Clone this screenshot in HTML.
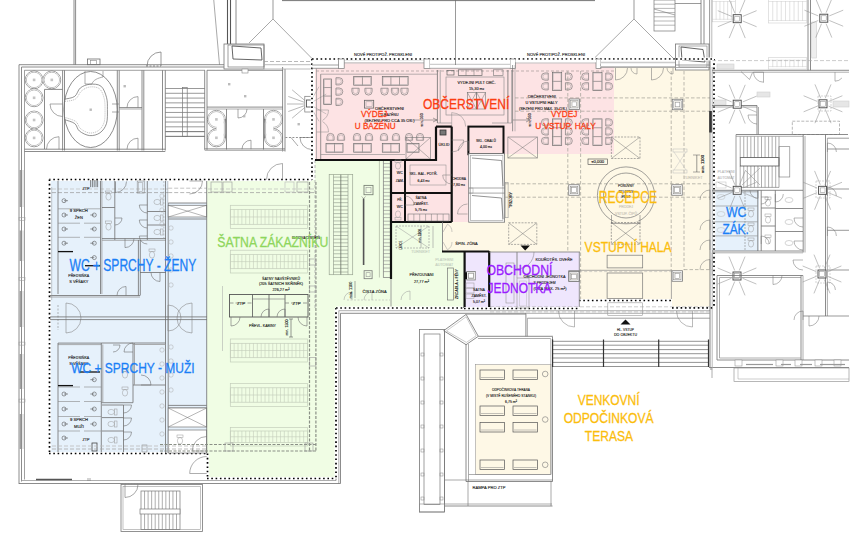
<!DOCTYPE html>
<html><head><meta charset="utf-8"><style>
html,body{margin:0;padding:0;background:#fff;}
svg{display:block;font-family:"Liberation Sans",sans-serif;}
</style></head><body>
<svg width="857" height="536" viewBox="0 0 857 536">
<rect width="857" height="536" fill="#fff"/>
<rect x="50" y="181" width="157" height="272" fill="#e6f1fb"/>
<polygon points="207,180 315,180 315,160 391,160 391,222 442,222 442,252 464.5,252 464.5,308 336,308 336,478 207,478" fill="#f0fde4"/>
<polygon points="315,62.5 614,62.5 614,154 469,154 469,222 391,222 391,160 315,160" fill="#fde3e4"/>
<polygon points="504,154 614,154 614,67 710,67 710,307.5 672,307.5 672,300.5 580,300.5 580,252 442,252 442,222 504,222" fill="#fef8e6"/>
<rect x="464.5" y="252" width="115" height="56" fill="#efe6fd"/>
<rect x="712" y="190" width="47" height="61" fill="#e6f1fb"/>
<rect x="475.5" y="364.5" width="75.5" height="110" fill="#fef8e6"/>
<line x1="74" y1="0" x2="74" y2="64.7" stroke="#6e6e6e" stroke-width="0.8"/>
<line x1="75.6" y1="0" x2="75.6" y2="64.7" stroke="#6e6e6e" stroke-width="0.8"/>
<rect x="87.5" y="59" width="12.5" height="5.7" fill="none" stroke="#6e6e6e" stroke-width="0.8"/>
<rect x="90.5" y="60.5" width="6" height="4" fill="none" stroke="#888" stroke-width="0.6"/>
<line x1="19" y1="64.7" x2="228" y2="64.7" stroke="#6e6e6e" stroke-width="0.8"/>
<line x1="21.5" y1="67" x2="228" y2="67" stroke="#6e6e6e" stroke-width="0.8"/>
<line x1="24.3" y1="70.3" x2="205" y2="70.3" stroke="#888" stroke-width="0.8"/>
<line x1="19" y1="64.7" x2="19" y2="484" stroke="#6e6e6e" stroke-width="0.8"/>
<line x1="21.5" y1="67" x2="21.5" y2="481.5" stroke="#6e6e6e" stroke-width="0.8"/>
<line x1="24.5" y1="70.3" x2="24.5" y2="479.5" stroke="#888" stroke-width="0.8"/>
<line x1="20.3" y1="170" x2="20.3" y2="207" stroke="#6a6a6a" stroke-width="0.8"/>
<line x1="23" y1="170" x2="23" y2="207" stroke="#999" stroke-width="0.5"/>
<line x1="20.3" y1="230.5" x2="20.3" y2="261" stroke="#6a6a6a" stroke-width="0.8"/>
<line x1="23" y1="230.5" x2="23" y2="261" stroke="#999" stroke-width="0.5"/>
<line x1="20.3" y1="291" x2="20.3" y2="327" stroke="#6a6a6a" stroke-width="0.8"/>
<line x1="23" y1="291" x2="23" y2="327" stroke="#999" stroke-width="0.5"/>
<line x1="20.3" y1="354" x2="20.3" y2="389" stroke="#6a6a6a" stroke-width="0.8"/>
<line x1="23" y1="354" x2="23" y2="389" stroke="#999" stroke-width="0.5"/>
<line x1="20.3" y1="414" x2="20.3" y2="449" stroke="#6a6a6a" stroke-width="0.8"/>
<line x1="23" y1="414" x2="23" y2="449" stroke="#999" stroke-width="0.5"/>
<rect x="19" y="217.3" width="6" height="3" fill="none" stroke="#999" stroke-width="0.5"/>
<rect x="19" y="277.5" width="6" height="3" fill="none" stroke="#999" stroke-width="0.5"/>
<rect x="19" y="342.1" width="6" height="3" fill="none" stroke="#999" stroke-width="0.5"/>
<rect x="19" y="399.1" width="6" height="3" fill="none" stroke="#999" stroke-width="0.5"/>
<line x1="24.5" y1="149.2" x2="165.3" y2="149.2" stroke="#6e6e6e" stroke-width="0.8"/>
<line x1="24.5" y1="151.5" x2="165.3" y2="151.5" stroke="#6e6e6e" stroke-width="0.8"/>
<line x1="62.6" y1="70.3" x2="62.6" y2="150.5" stroke="#6e6e6e" stroke-width="0.8"/>
<line x1="64.5" y1="70.3" x2="64.5" y2="150.5" stroke="#6e6e6e" stroke-width="0.8"/>
<line x1="117.3" y1="70.3" x2="117.3" y2="150.5" stroke="#6e6e6e" stroke-width="0.8"/>
<line x1="119.2" y1="70.3" x2="119.2" y2="150.5" stroke="#6e6e6e" stroke-width="0.8"/>
<line x1="142" y1="70.3" x2="142" y2="150.5" stroke="#6e6e6e" stroke-width="0.8"/>
<line x1="143.8" y1="70.3" x2="143.8" y2="150.5" stroke="#6e6e6e" stroke-width="0.8"/>
<line x1="162.5" y1="70.3" x2="162.5" y2="150.5" stroke="#6e6e6e" stroke-width="0.8"/>
<line x1="165.3" y1="70.3" x2="165.3" y2="150.5" stroke="#6e6e6e" stroke-width="0.8"/>
<path d="M161,66 L161.0,52.0 A14,14 0 0 0 147.0,66.0" fill="none" stroke="#6e6e6e" stroke-width="0.7"/>
<line x1="146" y1="66" x2="161" y2="66" stroke="#6e6e6e" stroke-width="0.8" stroke-dasharray="2 1.5"/>
<circle cx="34.1" cy="79.9" r="8.9" fill="none" stroke="#6e6e6e" stroke-width="0.7"/>
<circle cx="51.8" cy="79.9" r="8.9" fill="none" stroke="#6e6e6e" stroke-width="0.7"/>
<circle cx="34.1" cy="97.8" r="8.9" fill="none" stroke="#6e6e6e" stroke-width="0.7"/>
<circle cx="34.1" cy="79.9" r="8.450000000000001" fill="#fff" stroke="none" stroke-width="0"/>
<circle cx="51.8" cy="79.9" r="8.450000000000001" fill="#fff" stroke="none" stroke-width="0"/>
<circle cx="34.1" cy="97.8" r="8.450000000000001" fill="#fff" stroke="none" stroke-width="0"/>
<circle cx="34.1" cy="79.9" r="7.6000000000000005" fill="none" stroke="#8a8a8a" stroke-width="0.6"/>
<circle cx="51.8" cy="79.9" r="7.6000000000000005" fill="none" stroke="#8a8a8a" stroke-width="0.6"/>
<circle cx="34.1" cy="97.8" r="7.6000000000000005" fill="none" stroke="#8a8a8a" stroke-width="0.6"/>
<circle cx="34.1" cy="79.9" r="7.2" fill="#fff" stroke="none" stroke-width="0"/>
<circle cx="51.8" cy="79.9" r="7.2" fill="#fff" stroke="none" stroke-width="0"/>
<circle cx="34.1" cy="97.8" r="7.2" fill="#fff" stroke="none" stroke-width="0"/>
<rect x="32.800000000000004" y="78.60000000000001" width="2.6" height="2.6" fill="#c4c4c4"/>
<rect x="50.5" y="78.60000000000001" width="2.6" height="2.6" fill="#c4c4c4"/>
<rect x="32.800000000000004" y="96.5" width="2.6" height="2.6" fill="#c4c4c4"/>
<circle cx="34.1" cy="120" r="8.9" fill="none" stroke="#6e6e6e" stroke-width="0.7"/>
<circle cx="34.1" cy="137.9" r="8.9" fill="none" stroke="#6e6e6e" stroke-width="0.7"/>
<circle cx="34.1" cy="120" r="8.450000000000001" fill="#fff" stroke="none" stroke-width="0"/>
<circle cx="34.1" cy="137.9" r="8.450000000000001" fill="#fff" stroke="none" stroke-width="0"/>
<circle cx="34.1" cy="120" r="7.6000000000000005" fill="none" stroke="#8a8a8a" stroke-width="0.6"/>
<circle cx="34.1" cy="137.9" r="7.6000000000000005" fill="none" stroke="#8a8a8a" stroke-width="0.6"/>
<circle cx="34.1" cy="120" r="7.2" fill="#fff" stroke="none" stroke-width="0"/>
<circle cx="34.1" cy="137.9" r="7.2" fill="#fff" stroke="none" stroke-width="0"/>
<rect x="32.800000000000004" y="118.7" width="2.6" height="2.6" fill="#c4c4c4"/>
<rect x="32.800000000000004" y="136.6" width="2.6" height="2.6" fill="#c4c4c4"/>
<line x1="44.5" y1="89.4" x2="44.5" y2="149" stroke="#6e6e6e" stroke-width="0.8"/>
<line x1="44.5" y1="89.4" x2="62.5" y2="89.4" stroke="#6e6e6e" stroke-width="0.8"/>
<path d="M62.5,104 L50.0,104.0 A12.5,12.5 0 0 0 62.5,116.5" fill="none" stroke="#6e6e6e" stroke-width="0.6"/>
<path d="M59,149.2 L59.0,136.7 A12.5,12.5 0 0 0 46.5,149.2" fill="none" stroke="#6e6e6e" stroke-width="0.6"/>
<ellipse cx="90.6" cy="109.5" rx="26.7" ry="38" fill="none" stroke="#6e6e6e" stroke-width="0.8"/>
<path d="M64.5,99.2 C66.2,98.7 72.1,98.3 74.7,96.4 C77.3,94.5 77.8,90.0 80.3,88.0 C82.8,86.0 86.3,84.6 89.7,84.3 C93.1,84.0 98.1,83.9 100.9,86.1 C103.7,88.3 105.4,93.4 106.5,97.3 C107.6,101.2 107.4,105.1 107.4,109.5 C107.4,113.9 107.7,119.6 106.5,123.5 C105.3,127.4 102.8,130.8 100.0,132.8 C97.2,134.8 93.1,135.9 89.7,135.6 C86.3,135.3 81.9,133.0 79.4,131.0 C76.9,129.0 77.2,125.4 74.7,123.5 C72.2,121.6 66.2,120.3 64.5,119.7" fill="none" stroke="#666" stroke-width="0.7"/>
<path d="M65.0,101.5 C66.8,101.1 72.8,100.8 75.5,99.0 C78.2,97.2 79.1,93.0 81.5,91.0 C83.9,89.0 86.7,87.4 89.7,87.0 C92.7,86.6 97.1,86.9 99.5,88.8 C101.9,90.7 103.3,95.0 104.2,98.5 C105.1,102.0 105.0,105.6 105.0,109.5 C105.0,113.4 105.2,118.5 104.2,122.0 C103.2,125.5 101.2,128.5 98.8,130.3 C96.4,132.1 92.8,133.3 89.7,133.0 C86.7,132.7 82.8,130.5 80.5,128.6 C78.2,126.7 78.4,123.4 75.8,121.5 C73.2,119.6 66.8,118.1 65.0,117.4" fill="none" stroke="#8a8a8a" stroke-width="0.5" stroke-dasharray="1.2 0.8"/>
<path d="M85,71 L85,84 L92,84 C93,80 98,78 103,77 L103,71" fill="none" stroke="#777" stroke-width="0.6"/>
<rect x="89.5" y="108.5" width="2.4" height="2.4" fill="#bbb"/>
<line x1="112" y1="104" x2="119" y2="104" stroke="#6e6e6e" stroke-width="0.6"/>
<line x1="112" y1="112" x2="119" y2="112" stroke="#6e6e6e" stroke-width="0.6"/>
<line x1="119.2" y1="107.6" x2="142" y2="107.6" stroke="#6e6e6e" stroke-width="0.8"/>
<line x1="119.2" y1="109" x2="142" y2="109" stroke="#999" stroke-width="0.8"/>
<path d="M138,107.6 L138.0,96.6 A11,11 0 0 0 127.0,107.6" fill="none" stroke="#6e6e6e" stroke-width="0.6"/>
<path d="M138,149.2 L138.0,138.2 A11,11 0 0 0 127.0,149.2" fill="none" stroke="#6e6e6e" stroke-width="0.6"/>
<rect x="123.5" y="85" width="2.4" height="2.4" fill="#bbb"/>
<line x1="165.3" y1="88.5" x2="204.7" y2="88.5" stroke="#777" stroke-width="0.75"/>
<line x1="165.3" y1="93.29" x2="204.7" y2="93.29" stroke="#777" stroke-width="0.75"/>
<line x1="165.3" y1="98.08" x2="204.7" y2="98.08" stroke="#777" stroke-width="0.75"/>
<line x1="165.3" y1="102.87" x2="204.7" y2="102.87" stroke="#777" stroke-width="0.75"/>
<line x1="165.3" y1="107.66" x2="204.7" y2="107.66" stroke="#777" stroke-width="0.75"/>
<line x1="165.3" y1="112.45" x2="204.7" y2="112.45" stroke="#777" stroke-width="0.75"/>
<line x1="165.3" y1="117.24000000000001" x2="204.7" y2="117.24000000000001" stroke="#777" stroke-width="0.75"/>
<line x1="165.3" y1="122.03" x2="204.7" y2="122.03" stroke="#777" stroke-width="0.75"/>
<line x1="165.3" y1="126.82" x2="204.7" y2="126.82" stroke="#777" stroke-width="0.75"/>
<line x1="165.3" y1="131.61" x2="204.7" y2="131.61" stroke="#777" stroke-width="0.75"/>
<line x1="165.3" y1="136.4" x2="204.7" y2="136.4" stroke="#777" stroke-width="0.75"/>
<rect x="182.6" y="87.5" width="4.6" height="49" fill="none" stroke="#777" stroke-width="0.7"/>
<line x1="165.3" y1="131.6" x2="204.7" y2="131.6" stroke="#777" stroke-width="0.8"/>
<line x1="165.3" y1="136.4" x2="204.7" y2="136.4" stroke="#777" stroke-width="0.8"/>
<line x1="204.7" y1="70.3" x2="204.7" y2="149.8" stroke="#6e6e6e" stroke-width="0.8"/>
<line x1="207" y1="70.3" x2="207" y2="149.8" stroke="#6e6e6e" stroke-width="0.8"/>
<line x1="207" y1="70.3" x2="283" y2="70.3" stroke="#6e6e6e" stroke-width="0.8"/>
<line x1="207" y1="107.1" x2="283" y2="107.1" stroke="#6e6e6e" stroke-width="0.8"/>
<line x1="207" y1="109" x2="283" y2="109" stroke="#999" stroke-width="0.8"/>
<line x1="282.6" y1="67" x2="282.6" y2="151.5" stroke="#6e6e6e" stroke-width="0.8"/>
<line x1="285" y1="69" x2="285" y2="151.5" stroke="#6e6e6e" stroke-width="0.8"/>
<line x1="226.5" y1="109" x2="226.5" y2="149.5" stroke="#6e6e6e" stroke-width="0.8"/>
<line x1="263.5" y1="109" x2="263.5" y2="149.5" stroke="#6e6e6e" stroke-width="0.8"/>
<circle cx="216.4" cy="119.4" r="9" fill="none" stroke="#6e6e6e" stroke-width="0.7"/>
<circle cx="216.4" cy="137.8" r="9" fill="none" stroke="#6e6e6e" stroke-width="0.7"/>
<rect x="216.4" y="119.4" width="9" height="18.400000000000006" fill="none" stroke="#6e6e6e" stroke-width="0.7"/>
<circle cx="216.4" cy="119.4" r="8.55" fill="#fff" stroke="none" stroke-width="0"/>
<circle cx="216.4" cy="137.8" r="8.55" fill="#fff" stroke="none" stroke-width="0"/>
<rect x="216.4" y="119.4" width="8.55" height="18.400000000000006" fill="#fff"/>
<circle cx="216.4" cy="119.4" r="7.7" fill="none" stroke="#8a8a8a" stroke-width="0.6"/>
<circle cx="216.4" cy="137.8" r="7.7" fill="none" stroke="#8a8a8a" stroke-width="0.6"/>
<rect x="216.4" y="119.4" width="7.7" height="18.400000000000006" fill="none" stroke="#8a8a8a" stroke-width="0.6"/>
<circle cx="216.4" cy="119.4" r="7.25" fill="#fff" stroke="none" stroke-width="0"/>
<circle cx="216.4" cy="137.8" r="7.25" fill="#fff" stroke="none" stroke-width="0"/>
<rect x="216.4" y="119.4" width="7.25" height="18.400000000000006" fill="#fff"/>
<rect x="215.1" y="118.10000000000001" width="2.6" height="2.6" fill="#c4c4c4"/>
<rect x="215.1" y="136.5" width="2.6" height="2.6" fill="#c4c4c4"/>
<circle cx="273.5" cy="119.4" r="9" fill="none" stroke="#6e6e6e" stroke-width="0.7"/>
<circle cx="273.5" cy="137.8" r="9" fill="none" stroke="#6e6e6e" stroke-width="0.7"/>
<rect x="264.5" y="119.4" width="9" height="18.400000000000006" fill="none" stroke="#6e6e6e" stroke-width="0.7"/>
<circle cx="273.5" cy="119.4" r="8.55" fill="#fff" stroke="none" stroke-width="0"/>
<circle cx="273.5" cy="137.8" r="8.55" fill="#fff" stroke="none" stroke-width="0"/>
<rect x="264.95" y="119.4" width="8.55" height="18.400000000000006" fill="#fff"/>
<circle cx="273.5" cy="119.4" r="7.7" fill="none" stroke="#8a8a8a" stroke-width="0.6"/>
<circle cx="273.5" cy="137.8" r="7.7" fill="none" stroke="#8a8a8a" stroke-width="0.6"/>
<rect x="265.8" y="119.4" width="7.7" height="18.400000000000006" fill="none" stroke="#8a8a8a" stroke-width="0.6"/>
<circle cx="273.5" cy="119.4" r="7.25" fill="#fff" stroke="none" stroke-width="0"/>
<circle cx="273.5" cy="137.8" r="7.25" fill="#fff" stroke="none" stroke-width="0"/>
<rect x="266.25" y="119.4" width="7.25" height="18.400000000000006" fill="#fff"/>
<rect x="272.2" y="118.10000000000001" width="2.6" height="2.6" fill="#c4c4c4"/>
<rect x="272.2" y="136.5" width="2.6" height="2.6" fill="#c4c4c4"/>
<path d="M238,109 L238.0,118.0 A9,9 0 0 0 247.0,109.0" fill="none" stroke="#6e6e6e" stroke-width="0.6"/>
<path d="M251,149.2 L251.0,140.2 A9,9 0 0 0 242.0,149.2" fill="none" stroke="#6e6e6e" stroke-width="0.6"/>
<rect x="228" y="83" width="2.4" height="2.4" fill="#bbb"/>
<rect x="244" y="95" width="2.4" height="2.4" fill="#bbb"/>
<rect x="243" y="115" width="2.4" height="2.4" fill="#bbb"/>
<line x1="213.75" y1="0" x2="219.5" y2="64.7" stroke="#6e6e6e" stroke-width="0.6"/>
<line x1="227.5" y1="0" x2="227.5" y2="44" stroke="#555" stroke-width="1.1"/>
<line x1="230.5" y1="0" x2="230.5" y2="44" stroke="#555" stroke-width="1.1"/>
<line x1="236" y1="0" x2="236" y2="44" stroke="#6e6e6e" stroke-width="0.8"/>
<rect x="224" y="44" width="40" height="25" fill="#fff" stroke="#777" stroke-width="0.8"/>
<rect x="228" y="45" width="36" height="22" fill="none" stroke="#777" stroke-width="0.7"/>
<polygon points="232,46 261,48 262,60 233,59" fill="none" stroke="#555" stroke-width="0.9"/>
<rect x="242" y="69" width="6" height="4" fill="#fff" stroke="#888" stroke-width="0.6"/>
<line x1="282" y1="0.6" x2="595" y2="0.6" stroke="#777" stroke-width="1.0"/>
<line x1="273" y1="0" x2="273" y2="19" stroke="#6e6e6e" stroke-width="0.7"/>
<line x1="273" y1="19" x2="249" y2="43" stroke="#6e6e6e" stroke-width="0.6"/>
<line x1="273" y1="19" x2="312.5" y2="59" stroke="#6e6e6e" stroke-width="0.6"/>
<line x1="264" y1="61.5" x2="312" y2="61.5" stroke="#9a9a9a" stroke-width="0.7" stroke-dasharray="4 2"/>
<line x1="264" y1="64.7" x2="339" y2="64.7" stroke="#aaa" stroke-width="0.8"/>
<line x1="264" y1="69" x2="312" y2="69" stroke="#aaa" stroke-width="0.8"/>
<line x1="305.1697777844051" y1="107.2139380484327" x2="292.1470222513825" y2="118.14132741310387" stroke="#8a8a8a" stroke-width="0.6"/>
<line x1="304.30153689607044" y1="105.71010071662835" x2="288.32676234271" y2="111.52444315316471" stroke="#8a8a8a" stroke-width="0.6"/>
<line x1="304.0" y1="104.0" x2="287.0" y2="104.0" stroke="#8a8a8a" stroke-width="0.6"/>
<line x1="304.30153689607044" y1="102.28989928337165" x2="288.32676234271" y2="96.47555684683529" stroke="#8a8a8a" stroke-width="0.6"/>
<line x1="305.1697777844051" y1="100.7860619515673" x2="292.1470222513825" y2="89.85867258689613" stroke="#8a8a8a" stroke-width="0.6"/>
<line x1="311.5" y1="99.6698729810778" x2="319.0" y2="86.67949192431124" stroke="#9a9a9a" stroke-width="0.5"/>
<line x1="313.3301270189222" y1="101.5" x2="326.3205080756888" y2="94.0" stroke="#9a9a9a" stroke-width="0.5"/>
<line x1="313.3301270189222" y1="106.5" x2="326.3205080756888" y2="114.0" stroke="#9a9a9a" stroke-width="0.5"/>
<line x1="311.5" y1="108.3301270189222" x2="319.0" y2="121.32050807568876" stroke="#9a9a9a" stroke-width="0.5"/>
<rect x="304.8" y="96.3" width="7.2" height="15.7" fill="#fff" stroke="#777" stroke-width="0.7"/>
<rect x="306.5" y="100" width="5" height="7" fill="none" stroke="#444" stroke-width="0.8"/>
<line x1="285.4" y1="137.5" x2="312" y2="137.5" stroke="#777" stroke-width="0.8" stroke-dasharray="2 1.5"/>
<line x1="291" y1="137.5" x2="298" y2="146" stroke="#6e6e6e" stroke-width="0.6"/>
<path d="M312,137.5 L300.0,137.5 A12,12 0 0 0 312.0,149.5" fill="none" stroke="#6e6e6e" stroke-width="0.6"/>
<rect x="297.5" y="123" width="2.4" height="2.4" fill="#bbb"/>
<line x1="49" y1="179.5" x2="312" y2="179.5" stroke="#fff" stroke-width="2.8"/>
<line x1="49" y1="179.5" x2="312" y2="179.5" stroke="#000" stroke-width="1.7" stroke-dasharray="1.6 2.7"/>
<line x1="49.5" y1="179.5" x2="49.5" y2="453.5" stroke="#fff" stroke-width="2.8"/>
<line x1="49.5" y1="179.5" x2="49.5" y2="453.5" stroke="#000" stroke-width="1.7" stroke-dasharray="1.6 2.7"/>
<line x1="49" y1="453.5" x2="207.5" y2="453.5" stroke="#fff" stroke-width="2.8"/>
<line x1="49" y1="453.5" x2="207.5" y2="453.5" stroke="#000" stroke-width="1.7" stroke-dasharray="1.6 2.7"/>
<line x1="207.5" y1="453.5" x2="207.5" y2="478.5" stroke="#fff" stroke-width="2.8"/>
<line x1="207.5" y1="453.5" x2="207.5" y2="478.5" stroke="#000" stroke-width="1.7" stroke-dasharray="1.6 2.7"/>
<line x1="207" y1="478.5" x2="336" y2="478.5" stroke="#fff" stroke-width="2.8"/>
<line x1="207" y1="478.5" x2="336" y2="478.5" stroke="#000" stroke-width="1.7" stroke-dasharray="1.6 2.7"/>
<line x1="336" y1="308" x2="336" y2="478.5" stroke="#fff" stroke-width="2.8"/>
<line x1="336" y1="308" x2="336" y2="478.5" stroke="#000" stroke-width="1.7" stroke-dasharray="1.6 2.7"/>
<line x1="52" y1="192.6" x2="316" y2="192.6" stroke="#9a9a9a" stroke-width="0.7" stroke-dasharray="4 2"/>
<line x1="52" y1="189" x2="316" y2="189" stroke="#bbb" stroke-width="0.7" stroke-dasharray="4 2"/>
<line x1="58" y1="181" x2="58" y2="294" stroke="#6e6e6e" stroke-width="0.8"/>
<line x1="100.5" y1="181" x2="100.5" y2="294" stroke="#6e6e6e" stroke-width="0.8"/>
<line x1="101.9" y1="181" x2="101.9" y2="294" stroke="#999" stroke-width="0.8"/>
<circle cx="64" cy="200.7" r="2.0" fill="none" stroke="#555" stroke-width="0.6"/>
<line x1="64" y1="200.7" x2="68" y2="200.7" stroke="#555" stroke-width="0.6"/>
<circle cx="64" cy="215" r="2.0" fill="none" stroke="#555" stroke-width="0.6"/>
<line x1="64" y1="215" x2="68" y2="215" stroke="#555" stroke-width="0.6"/>
<circle cx="64" cy="229" r="2.0" fill="none" stroke="#555" stroke-width="0.6"/>
<line x1="64" y1="229" x2="68" y2="229" stroke="#555" stroke-width="0.6"/>
<circle cx="64" cy="243.2" r="2.0" fill="none" stroke="#555" stroke-width="0.6"/>
<line x1="64" y1="243.2" x2="68" y2="243.2" stroke="#555" stroke-width="0.6"/>
<circle cx="94.3" cy="215" r="2.0" fill="none" stroke="#555" stroke-width="0.6"/>
<line x1="94.3" y1="215" x2="90.3" y2="215" stroke="#555" stroke-width="0.6"/>
<circle cx="94.3" cy="229" r="2.0" fill="none" stroke="#555" stroke-width="0.6"/>
<line x1="94.3" y1="229" x2="90.3" y2="229" stroke="#555" stroke-width="0.6"/>
<circle cx="94.3" cy="243.2" r="2.0" fill="none" stroke="#555" stroke-width="0.6"/>
<line x1="94.3" y1="243.2" x2="90.3" y2="243.2" stroke="#555" stroke-width="0.6"/>
<circle cx="94.3" cy="257.6" r="2.0" fill="none" stroke="#555" stroke-width="0.6"/>
<line x1="94.3" y1="257.6" x2="90.3" y2="257.6" stroke="#555" stroke-width="0.6"/>
<line x1="58" y1="208.8" x2="80" y2="208.8" stroke="#888" stroke-width="0.6"/>
<line x1="84" y1="208.8" x2="100.5" y2="208.8" stroke="#888" stroke-width="0.6"/>
<line x1="58" y1="223.2" x2="80" y2="223.2" stroke="#888" stroke-width="0.6"/>
<line x1="84" y1="223.2" x2="100.5" y2="223.2" stroke="#888" stroke-width="0.6"/>
<line x1="58" y1="237.3" x2="80" y2="237.3" stroke="#888" stroke-width="0.6"/>
<line x1="84" y1="237.3" x2="100.5" y2="237.3" stroke="#888" stroke-width="0.6"/>
<line x1="58" y1="251.6" x2="73" y2="251.6" stroke="#111" stroke-width="1.3"/>
<line x1="85" y1="265.7" x2="100" y2="265.7" stroke="#111" stroke-width="1.3"/>
<line x1="50" y1="295.5" x2="140" y2="295.5" stroke="#6e6e6e" stroke-width="0.8"/>
<line x1="50" y1="297" x2="140" y2="297" stroke="#999" stroke-width="0.8"/>
<line x1="114.8" y1="181" x2="114.8" y2="240" stroke="#6e6e6e" stroke-width="0.8"/>
<line x1="102" y1="207.5" x2="114.8" y2="207.5" stroke="#6e6e6e" stroke-width="0.8"/>
<g transform="translate(108.5,196) rotate(0)"><rect x="-3" y="-5" width="6" height="2.5" fill="none" stroke="#999" stroke-width="0.5"/><ellipse cx="0" cy="0.8" rx="2.6" ry="3.3" fill="none" stroke="#999" stroke-width="0.5"/></g>
<g transform="translate(108.5,226) rotate(0)"><rect x="-3" y="-5" width="6" height="2.5" fill="none" stroke="#999" stroke-width="0.5"/><ellipse cx="0" cy="0.8" rx="2.6" ry="3.3" fill="none" stroke="#999" stroke-width="0.5"/></g>
<line x1="147.3" y1="181" x2="147.3" y2="240" stroke="#6e6e6e" stroke-width="0.8"/>
<line x1="147.3" y1="211.5" x2="166" y2="211.5" stroke="#6e6e6e" stroke-width="0.8"/>
<line x1="147.3" y1="225" x2="166" y2="225" stroke="#6e6e6e" stroke-width="0.8"/>
<g transform="translate(158,202) rotate(90)"><rect x="-3" y="-5" width="6" height="2.5" fill="none" stroke="#999" stroke-width="0.5"/><ellipse cx="0" cy="0.8" rx="2.6" ry="3.3" fill="none" stroke="#999" stroke-width="0.5"/></g>
<g transform="translate(158,218) rotate(90)"><rect x="-3" y="-5" width="6" height="2.5" fill="none" stroke="#999" stroke-width="0.5"/><ellipse cx="0" cy="0.8" rx="2.6" ry="3.3" fill="none" stroke="#999" stroke-width="0.5"/></g>
<g transform="translate(158,232) rotate(90)"><rect x="-3" y="-5" width="6" height="2.5" fill="none" stroke="#999" stroke-width="0.5"/><ellipse cx="0" cy="0.8" rx="2.6" ry="3.3" fill="none" stroke="#999" stroke-width="0.5"/></g>
<line x1="102" y1="238.6" x2="166" y2="238.6" stroke="#6e6e6e" stroke-width="0.8"/>
<line x1="102" y1="240.3" x2="166" y2="240.3" stroke="#999" stroke-width="0.8"/>
<line x1="138.4" y1="240" x2="138.4" y2="295.5" stroke="#6e6e6e" stroke-width="0.8"/>
<line x1="140.3" y1="240" x2="140.3" y2="295.5" stroke="#6e6e6e" stroke-width="0.8"/>
<line x1="140" y1="272.5" x2="166" y2="272.5" stroke="#6e6e6e" stroke-width="0.8"/>
<g transform="translate(152,254) rotate(0)"><rect x="-3" y="-5" width="6" height="2.5" fill="none" stroke="#999" stroke-width="0.5"/><ellipse cx="0" cy="0.8" rx="2.6" ry="3.3" fill="none" stroke="#999" stroke-width="0.5"/></g>
<path d="M125,238.6 L125.0,247.6 A9,9 0 0 0 134.0,238.6" fill="none" stroke="#6e6e6e" stroke-width="0.6"/>
<path d="M126,295.5 L126.0,286.5 A9,9 0 0 0 117.0,295.5" fill="none" stroke="#6e6e6e" stroke-width="0.6"/>
<path d="M147.3,205 L139.3,205.0 A8,8 0 0 0 147.3,213.0" fill="none" stroke="#6e6e6e" stroke-width="0.6"/>
<path d="M147.3,220 L139.3,220.0 A8,8 0 0 0 147.3,228.0" fill="none" stroke="#6e6e6e" stroke-width="0.6"/>
<path d="M147.3,236 L139.3,236.0 A8,8 0 0 0 147.3,244.0" fill="none" stroke="#6e6e6e" stroke-width="0.6"/>
<path d="M115,218 L122.0,218.0 A7,7 0 0 1 115.0,225.0" fill="none" stroke="#6e6e6e" stroke-width="0.6"/>
<path d="M160,272.5 L160.0,281.5 A9,9 0 0 1 151.0,272.5" fill="none" stroke="#6e6e6e" stroke-width="0.6"/>
<line x1="165.5" y1="181" x2="165.5" y2="453" stroke="#6e6e6e" stroke-width="0.8"/>
<line x1="168.2" y1="181" x2="168.2" y2="453" stroke="#6e6e6e" stroke-width="0.8"/>
<rect x="168.2" y="181" width="38.5" height="22" fill="#fff"/>
<line x1="168.2" y1="192.6" x2="206.7" y2="192.6" stroke="#9a9a9a" stroke-width="0.7" stroke-dasharray="4 2"/>
<line x1="168.2" y1="188.2" x2="206.7" y2="188.2" stroke="#aaa" stroke-width="0.7" stroke-dasharray="4 2"/>
<path d="M189.5,181 L202.5,181.0 A13,13 0 0 1 189.5,194.0" fill="none" stroke="#777" stroke-width="0.6"/>
<rect x="168.2" y="205.3" width="38.5" height="11.7" fill="#fff" stroke="#777" stroke-width="0.7"/>
<line x1="168.2" y1="205.3" x2="206.7" y2="217" stroke="#6e6e6e" stroke-width="0.5"/>
<line x1="168.2" y1="217" x2="206.7" y2="205.3" stroke="#6e6e6e" stroke-width="0.5"/>
<line x1="168.2" y1="203" x2="206.7" y2="203" stroke="#6e6e6e" stroke-width="0.8"/>
<line x1="168.2" y1="219" x2="206.7" y2="219" stroke="#6e6e6e" stroke-width="0.8"/>
<circle cx="171" cy="228" r="2.2" fill="none" stroke="#aaa" stroke-width="0.5"/>
<circle cx="171" cy="242" r="2.2" fill="none" stroke="#aaa" stroke-width="0.5"/>
<circle cx="171" cy="256" r="2.2" fill="none" stroke="#aaa" stroke-width="0.5"/>
<circle cx="171" cy="270" r="2.2" fill="none" stroke="#aaa" stroke-width="0.5"/>
<circle cx="171" cy="285" r="2.2" fill="none" stroke="#aaa" stroke-width="0.5"/>
<circle cx="162" cy="196" r="2.2" fill="none" stroke="#aaa" stroke-width="0.5"/>
<circle cx="162" cy="210" r="2.2" fill="none" stroke="#aaa" stroke-width="0.5"/>
<circle cx="162" cy="224" r="2.2" fill="none" stroke="#aaa" stroke-width="0.5"/>
<rect x="137.2" y="181" width="7" height="12" fill="none" stroke="#888" stroke-width="0.6"/>
<rect x="138.7" y="182.5" width="4" height="9" fill="none" stroke="#999" stroke-width="0.5"/>
<line x1="90.6" y1="180" x2="90.6" y2="187.2" stroke="#555" stroke-width="0.7"/>
<line x1="92.4" y1="180" x2="92.4" y2="187.2" stroke="#555" stroke-width="0.7"/>
<line x1="94.2" y1="180" x2="94.2" y2="187.2" stroke="#555" stroke-width="0.7"/>
<line x1="96" y1="180" x2="96" y2="187.2" stroke="#555" stroke-width="0.7"/>
<line x1="97.6" y1="180" x2="97.6" y2="187.2" stroke="#555" stroke-width="0.7"/>
<path d="M115.5,181.5 L115.5,192.5 A11,11 0 0 0 126.5,181.5" fill="none" stroke="#6e6e6e" stroke-width="0.6"/>
<line x1="163.8" y1="181" x2="163.8" y2="240" stroke="#999" stroke-width="0.5" stroke-dasharray="2 1.5"/>
<line x1="51.7" y1="187" x2="51.7" y2="300" stroke="#999" stroke-width="0.5"/>
<path d="M66,318 L66.0,303.0 A15,15 0 0 1 81.0,318.0" fill="none" stroke="#888" stroke-width="0.6"/>
<path d="M66,318 L66.0,333.0 A15,15 0 0 0 81.0,318.0" fill="none" stroke="#888" stroke-width="0.6"/>
<path d="M192,318 L192.0,303.0 A15,15 0 0 0 177.0,318.0" fill="none" stroke="#888" stroke-width="0.6"/>
<path d="M192,318 L192.0,333.0 A15,15 0 0 1 177.0,318.0" fill="none" stroke="#888" stroke-width="0.6"/>
<path d="M168,318 L168.0,305.0 A13,13 0 0 1 181.0,318.0" fill="none" stroke="#888" stroke-width="0.6"/>
<path d="M168,318 L168.0,331.0 A13,13 0 0 0 181.0,318.0" fill="none" stroke="#888" stroke-width="0.6"/>
<line x1="58" y1="305" x2="58" y2="330" stroke="#888" stroke-width="0.6" stroke-dasharray="2 1.5"/>
<line x1="50" y1="316.9" x2="207" y2="316.9" stroke="#6e6e6e" stroke-width="0.8"/>
<line x1="50" y1="319.6" x2="207" y2="319.6" stroke="#6e6e6e" stroke-width="0.8"/>
<line x1="58" y1="343.1" x2="101.3" y2="343.1" stroke="#6e6e6e" stroke-width="0.8"/>
<line x1="58" y1="344.6" x2="101.3" y2="344.6" stroke="#999" stroke-width="0.8"/>
<line x1="58" y1="343" x2="58" y2="452" stroke="#6e6e6e" stroke-width="0.8"/>
<line x1="101.3" y1="343" x2="101.3" y2="452" stroke="#6e6e6e" stroke-width="0.8"/>
<circle cx="94.3" cy="379.7" r="2.0" fill="none" stroke="#555" stroke-width="0.6"/>
<line x1="94.3" y1="379.7" x2="90.3" y2="379.7" stroke="#555" stroke-width="0.6"/>
<circle cx="94.3" cy="394" r="2.0" fill="none" stroke="#555" stroke-width="0.6"/>
<line x1="94.3" y1="394" x2="90.3" y2="394" stroke="#555" stroke-width="0.6"/>
<circle cx="94.3" cy="409" r="2.0" fill="none" stroke="#555" stroke-width="0.6"/>
<line x1="94.3" y1="409" x2="90.3" y2="409" stroke="#555" stroke-width="0.6"/>
<circle cx="94.3" cy="424" r="2.0" fill="none" stroke="#555" stroke-width="0.6"/>
<line x1="94.3" y1="424" x2="90.3" y2="424" stroke="#555" stroke-width="0.6"/>
<circle cx="64" cy="394" r="2.0" fill="none" stroke="#555" stroke-width="0.6"/>
<line x1="64" y1="394" x2="68" y2="394" stroke="#555" stroke-width="0.6"/>
<circle cx="64" cy="409" r="2.0" fill="none" stroke="#555" stroke-width="0.6"/>
<line x1="64" y1="409" x2="68" y2="409" stroke="#555" stroke-width="0.6"/>
<circle cx="64" cy="424" r="2.0" fill="none" stroke="#555" stroke-width="0.6"/>
<line x1="64" y1="424" x2="68" y2="424" stroke="#555" stroke-width="0.6"/>
<circle cx="64" cy="438" r="2.0" fill="none" stroke="#555" stroke-width="0.6"/>
<line x1="64" y1="438" x2="68" y2="438" stroke="#555" stroke-width="0.6"/>
<line x1="58" y1="387" x2="80" y2="387" stroke="#888" stroke-width="0.6"/>
<line x1="84" y1="387" x2="101.3" y2="387" stroke="#888" stroke-width="0.6"/>
<line x1="58" y1="401.5" x2="80" y2="401.5" stroke="#888" stroke-width="0.6"/>
<line x1="84" y1="401.5" x2="101.3" y2="401.5" stroke="#888" stroke-width="0.6"/>
<line x1="58" y1="416.5" x2="80" y2="416.5" stroke="#888" stroke-width="0.6"/>
<line x1="84" y1="416.5" x2="101.3" y2="416.5" stroke="#888" stroke-width="0.6"/>
<line x1="58" y1="431" x2="80" y2="431" stroke="#888" stroke-width="0.6"/>
<line x1="84" y1="431" x2="101.3" y2="431" stroke="#888" stroke-width="0.6"/>
<line x1="80" y1="372" x2="100" y2="372" stroke="#111" stroke-width="1.3"/>
<line x1="58" y1="385.6" x2="73" y2="385.6" stroke="#111" stroke-width="1.3"/>
<line x1="101.3" y1="343" x2="133" y2="343" stroke="#6e6e6e" stroke-width="0.8"/>
<line x1="133" y1="343" x2="133" y2="402.7" stroke="#6e6e6e" stroke-width="0.8"/>
<line x1="101.3" y1="402.7" x2="133" y2="402.7" stroke="#6e6e6e" stroke-width="0.8"/>
<line x1="102.8" y1="344.5" x2="102.8" y2="402.7" stroke="#999" stroke-width="0.8"/>
<line x1="133" y1="385" x2="165.5" y2="385" stroke="#6e6e6e" stroke-width="0.8"/>
<line x1="134.5" y1="343" x2="134.5" y2="385" stroke="#999" stroke-width="0.8"/>
<line x1="133" y1="343" x2="165.5" y2="343" stroke="#6e6e6e" stroke-width="0.8"/>
<line x1="133" y1="344.5" x2="165.5" y2="344.5" stroke="#999" stroke-width="0.8"/>
<g transform="translate(125,374) rotate(0)"><rect x="-3" y="-5" width="6" height="2.5" fill="none" stroke="#999" stroke-width="0.5"/><ellipse cx="0" cy="0.8" rx="2.6" ry="3.3" fill="none" stroke="#999" stroke-width="0.5"/></g>
<g transform="translate(125,392) rotate(0)"><rect x="-3" y="-5" width="6" height="2.5" fill="none" stroke="#999" stroke-width="0.5"/><ellipse cx="0" cy="0.8" rx="2.6" ry="3.3" fill="none" stroke="#999" stroke-width="0.5"/></g>
<line x1="123.5" y1="405" x2="123.5" y2="452" stroke="#6e6e6e" stroke-width="0.8"/>
<line x1="102" y1="417.6" x2="123.5" y2="417.6" stroke="#6e6e6e" stroke-width="0.8"/>
<line x1="102" y1="431" x2="123.5" y2="431" stroke="#6e6e6e" stroke-width="0.8"/>
<line x1="102" y1="405" x2="123.5" y2="405" stroke="#6e6e6e" stroke-width="0.8"/>
<g transform="translate(112,412) rotate(90)"><rect x="-3" y="-5" width="6" height="2.5" fill="none" stroke="#999" stroke-width="0.5"/><ellipse cx="0" cy="0.8" rx="2.6" ry="3.3" fill="none" stroke="#999" stroke-width="0.5"/></g>
<g transform="translate(112,424) rotate(90)"><rect x="-3" y="-5" width="6" height="2.5" fill="none" stroke="#999" stroke-width="0.5"/><ellipse cx="0" cy="0.8" rx="2.6" ry="3.3" fill="none" stroke="#999" stroke-width="0.5"/></g>
<g transform="translate(112,440) rotate(90)"><rect x="-3" y="-5" width="6" height="2.5" fill="none" stroke="#999" stroke-width="0.5"/><ellipse cx="0" cy="0.8" rx="2.6" ry="3.3" fill="none" stroke="#999" stroke-width="0.5"/></g>
<path d="M123.5,405 L131.5,405.0 A8,8 0 0 1 123.5,413.0" fill="none" stroke="#6e6e6e" stroke-width="0.6"/>
<path d="M123.5,418 L131.5,418.0 A8,8 0 0 1 123.5,426.0" fill="none" stroke="#6e6e6e" stroke-width="0.6"/>
<path d="M123.5,432 L131.5,432.0 A8,8 0 0 1 123.5,440.0" fill="none" stroke="#6e6e6e" stroke-width="0.6"/>
<path d="M133,352 L124.0,352.0 A9,9 0 0 1 133.0,343.0" fill="none" stroke="#6e6e6e" stroke-width="0.6"/>
<path d="M141,385 L151.0,385.0 A10,10 0 0 0 141.0,375.0" fill="none" stroke="#6e6e6e" stroke-width="0.6"/>
<path d="M113,345 L120.0,345.0 A7,7 0 0 1 113.0,352.0" fill="none" stroke="#6e6e6e" stroke-width="0.6"/>
<circle cx="162" cy="350" r="2.2" fill="none" stroke="#aaa" stroke-width="0.5"/>
<circle cx="162" cy="364" r="2.2" fill="none" stroke="#aaa" stroke-width="0.5"/>
<circle cx="162" cy="378" r="2.2" fill="none" stroke="#aaa" stroke-width="0.5"/>
<circle cx="162" cy="392" r="2.2" fill="none" stroke="#aaa" stroke-width="0.5"/>
<circle cx="162" cy="406" r="2.2" fill="none" stroke="#aaa" stroke-width="0.5"/>
<circle cx="162" cy="420" r="2.2" fill="none" stroke="#aaa" stroke-width="0.5"/>
<circle cx="162" cy="434" r="2.2" fill="none" stroke="#aaa" stroke-width="0.5"/>
<circle cx="171" cy="347" r="2.2" fill="none" stroke="#aaa" stroke-width="0.5"/>
<circle cx="171" cy="361" r="2.2" fill="none" stroke="#aaa" stroke-width="0.5"/>
<circle cx="171" cy="375" r="2.2" fill="none" stroke="#aaa" stroke-width="0.5"/>
<circle cx="171" cy="390" r="2.2" fill="none" stroke="#aaa" stroke-width="0.5"/>
<line x1="168.2" y1="405.4" x2="206.7" y2="405.4" stroke="#6e6e6e" stroke-width="0.8"/>
<line x1="168.2" y1="408" x2="206.7" y2="408" stroke="#6e6e6e" stroke-width="0.8"/>
<rect x="168.2" y="408" width="38.5" height="19" fill="#fff" stroke="#777" stroke-width="0.7"/>
<line x1="168.2" y1="408" x2="206.7" y2="427" stroke="#6e6e6e" stroke-width="0.5"/>
<line x1="168.2" y1="427" x2="206.7" y2="408" stroke="#6e6e6e" stroke-width="0.5"/>
<rect x="168.2" y="430" width="38.5" height="23" fill="#fff" stroke="#777" stroke-width="0.7"/>
<g transform="translate(180,440) rotate(0)"><rect x="-3" y="-5" width="6" height="2.5" fill="none" stroke="#999" stroke-width="0.5"/><ellipse cx="0" cy="0.8" rx="2.6" ry="3.3" fill="none" stroke="#999" stroke-width="0.5"/></g>
<rect x="92" y="443" width="5" height="8" fill="none" stroke="#444" stroke-width="0.8"/>
<rect x="142" y="445" width="5" height="7" fill="none" stroke="#888" stroke-width="0.6"/>
<line x1="52" y1="449" x2="207" y2="449" stroke="#aaa" stroke-width="0.8" stroke-dasharray="4 2"/>
<line x1="52" y1="446" x2="207" y2="446" stroke="#bbb" stroke-width="0.8" stroke-dasharray="4 2"/>
<path d="M206.7,451 L192.2,451.0 A14.5,14.5 0 0 1 206.7,436.5" fill="none" stroke="#777" stroke-width="0.6"/>
<path d="M206.7,473.5 L189.7,473.5 A17,17 0 0 1 206.7,456.5" fill="none" stroke="#777" stroke-width="0.6"/>
<line x1="206.7" y1="181" x2="206.7" y2="453" stroke="#6e6e6e" stroke-width="0.8"/>
<rect x="230.3" y="205.3" width="77.19999999999999" height="23.299999999999983" fill="none" stroke="#c3cdbb" stroke-width="0.7"/>
<rect x="230.3" y="209.60000000000002" width="77.19999999999999" height="14.69999999999996" fill="none" stroke="#c3cdbb" stroke-width="0.7"/>
<line x1="230.3" y1="216.95" x2="307.5" y2="216.95" stroke="#c3cdbb" stroke-width="0.6"/>
<line x1="234.16000000000003" y1="209.60000000000002" x2="234.16000000000003" y2="224.29999999999998" stroke="#c3cdbb" stroke-width="0.6"/>
<line x1="238.02" y1="209.60000000000002" x2="238.02" y2="224.29999999999998" stroke="#c3cdbb" stroke-width="0.6"/>
<line x1="241.88" y1="209.60000000000002" x2="241.88" y2="224.29999999999998" stroke="#c3cdbb" stroke-width="0.6"/>
<line x1="245.74" y1="209.60000000000002" x2="245.74" y2="224.29999999999998" stroke="#c3cdbb" stroke-width="0.6"/>
<line x1="249.60000000000002" y1="209.60000000000002" x2="249.60000000000002" y2="224.29999999999998" stroke="#c3cdbb" stroke-width="0.6"/>
<line x1="253.46" y1="209.60000000000002" x2="253.46" y2="224.29999999999998" stroke="#c3cdbb" stroke-width="0.6"/>
<line x1="257.32" y1="209.60000000000002" x2="257.32" y2="224.29999999999998" stroke="#c3cdbb" stroke-width="0.6"/>
<line x1="261.18" y1="209.60000000000002" x2="261.18" y2="224.29999999999998" stroke="#c3cdbb" stroke-width="0.6"/>
<line x1="265.04" y1="209.60000000000002" x2="265.04" y2="224.29999999999998" stroke="#c3cdbb" stroke-width="0.6"/>
<line x1="268.9" y1="209.60000000000002" x2="268.9" y2="224.29999999999998" stroke="#c3cdbb" stroke-width="0.6"/>
<line x1="272.76" y1="209.60000000000002" x2="272.76" y2="224.29999999999998" stroke="#c3cdbb" stroke-width="0.6"/>
<line x1="276.62" y1="209.60000000000002" x2="276.62" y2="224.29999999999998" stroke="#c3cdbb" stroke-width="0.6"/>
<line x1="280.48" y1="209.60000000000002" x2="280.48" y2="224.29999999999998" stroke="#c3cdbb" stroke-width="0.6"/>
<line x1="284.34" y1="209.60000000000002" x2="284.34" y2="224.29999999999998" stroke="#c3cdbb" stroke-width="0.6"/>
<line x1="288.2" y1="209.60000000000002" x2="288.2" y2="224.29999999999998" stroke="#c3cdbb" stroke-width="0.6"/>
<line x1="292.06" y1="209.60000000000002" x2="292.06" y2="224.29999999999998" stroke="#c3cdbb" stroke-width="0.6"/>
<line x1="295.92" y1="209.60000000000002" x2="295.92" y2="224.29999999999998" stroke="#c3cdbb" stroke-width="0.6"/>
<line x1="299.78" y1="209.60000000000002" x2="299.78" y2="224.29999999999998" stroke="#c3cdbb" stroke-width="0.6"/>
<line x1="303.64" y1="209.60000000000002" x2="303.64" y2="224.29999999999998" stroke="#c3cdbb" stroke-width="0.6"/>
<rect x="230.3" y="250.2" width="77.19999999999999" height="22.80000000000001" fill="none" stroke="#c3cdbb" stroke-width="0.7"/>
<rect x="230.3" y="254.5" width="77.19999999999999" height="14.199999999999989" fill="none" stroke="#c3cdbb" stroke-width="0.7"/>
<line x1="230.3" y1="261.6" x2="307.5" y2="261.6" stroke="#c3cdbb" stroke-width="0.6"/>
<line x1="234.16000000000003" y1="254.5" x2="234.16000000000003" y2="268.7" stroke="#c3cdbb" stroke-width="0.6"/>
<line x1="238.02" y1="254.5" x2="238.02" y2="268.7" stroke="#c3cdbb" stroke-width="0.6"/>
<line x1="241.88" y1="254.5" x2="241.88" y2="268.7" stroke="#c3cdbb" stroke-width="0.6"/>
<line x1="245.74" y1="254.5" x2="245.74" y2="268.7" stroke="#c3cdbb" stroke-width="0.6"/>
<line x1="249.60000000000002" y1="254.5" x2="249.60000000000002" y2="268.7" stroke="#c3cdbb" stroke-width="0.6"/>
<line x1="253.46" y1="254.5" x2="253.46" y2="268.7" stroke="#c3cdbb" stroke-width="0.6"/>
<line x1="257.32" y1="254.5" x2="257.32" y2="268.7" stroke="#c3cdbb" stroke-width="0.6"/>
<line x1="261.18" y1="254.5" x2="261.18" y2="268.7" stroke="#c3cdbb" stroke-width="0.6"/>
<line x1="265.04" y1="254.5" x2="265.04" y2="268.7" stroke="#c3cdbb" stroke-width="0.6"/>
<line x1="268.9" y1="254.5" x2="268.9" y2="268.7" stroke="#c3cdbb" stroke-width="0.6"/>
<line x1="272.76" y1="254.5" x2="272.76" y2="268.7" stroke="#c3cdbb" stroke-width="0.6"/>
<line x1="276.62" y1="254.5" x2="276.62" y2="268.7" stroke="#c3cdbb" stroke-width="0.6"/>
<line x1="280.48" y1="254.5" x2="280.48" y2="268.7" stroke="#c3cdbb" stroke-width="0.6"/>
<line x1="284.34" y1="254.5" x2="284.34" y2="268.7" stroke="#c3cdbb" stroke-width="0.6"/>
<line x1="288.2" y1="254.5" x2="288.2" y2="268.7" stroke="#c3cdbb" stroke-width="0.6"/>
<line x1="292.06" y1="254.5" x2="292.06" y2="268.7" stroke="#c3cdbb" stroke-width="0.6"/>
<line x1="295.92" y1="254.5" x2="295.92" y2="268.7" stroke="#c3cdbb" stroke-width="0.6"/>
<line x1="299.78" y1="254.5" x2="299.78" y2="268.7" stroke="#c3cdbb" stroke-width="0.6"/>
<line x1="303.64" y1="254.5" x2="303.64" y2="268.7" stroke="#c3cdbb" stroke-width="0.6"/>
<rect x="230.3" y="339" width="77.19999999999999" height="23" fill="none" stroke="#c3cdbb" stroke-width="0.7"/>
<rect x="230.3" y="343.3" width="77.19999999999999" height="14.399999999999977" fill="none" stroke="#c3cdbb" stroke-width="0.7"/>
<line x1="230.3" y1="350.5" x2="307.5" y2="350.5" stroke="#c3cdbb" stroke-width="0.6"/>
<line x1="234.16000000000003" y1="343.3" x2="234.16000000000003" y2="357.7" stroke="#c3cdbb" stroke-width="0.6"/>
<line x1="238.02" y1="343.3" x2="238.02" y2="357.7" stroke="#c3cdbb" stroke-width="0.6"/>
<line x1="241.88" y1="343.3" x2="241.88" y2="357.7" stroke="#c3cdbb" stroke-width="0.6"/>
<line x1="245.74" y1="343.3" x2="245.74" y2="357.7" stroke="#c3cdbb" stroke-width="0.6"/>
<line x1="249.60000000000002" y1="343.3" x2="249.60000000000002" y2="357.7" stroke="#c3cdbb" stroke-width="0.6"/>
<line x1="253.46" y1="343.3" x2="253.46" y2="357.7" stroke="#c3cdbb" stroke-width="0.6"/>
<line x1="257.32" y1="343.3" x2="257.32" y2="357.7" stroke="#c3cdbb" stroke-width="0.6"/>
<line x1="261.18" y1="343.3" x2="261.18" y2="357.7" stroke="#c3cdbb" stroke-width="0.6"/>
<line x1="265.04" y1="343.3" x2="265.04" y2="357.7" stroke="#c3cdbb" stroke-width="0.6"/>
<line x1="268.9" y1="343.3" x2="268.9" y2="357.7" stroke="#c3cdbb" stroke-width="0.6"/>
<line x1="272.76" y1="343.3" x2="272.76" y2="357.7" stroke="#c3cdbb" stroke-width="0.6"/>
<line x1="276.62" y1="343.3" x2="276.62" y2="357.7" stroke="#c3cdbb" stroke-width="0.6"/>
<line x1="280.48" y1="343.3" x2="280.48" y2="357.7" stroke="#c3cdbb" stroke-width="0.6"/>
<line x1="284.34" y1="343.3" x2="284.34" y2="357.7" stroke="#c3cdbb" stroke-width="0.6"/>
<line x1="288.2" y1="343.3" x2="288.2" y2="357.7" stroke="#c3cdbb" stroke-width="0.6"/>
<line x1="292.06" y1="343.3" x2="292.06" y2="357.7" stroke="#c3cdbb" stroke-width="0.6"/>
<line x1="295.92" y1="343.3" x2="295.92" y2="357.7" stroke="#c3cdbb" stroke-width="0.6"/>
<line x1="299.78" y1="343.3" x2="299.78" y2="357.7" stroke="#c3cdbb" stroke-width="0.6"/>
<line x1="303.64" y1="343.3" x2="303.64" y2="357.7" stroke="#c3cdbb" stroke-width="0.6"/>
<rect x="230.3" y="383.5" width="77.19999999999999" height="23.0" fill="none" stroke="#c3cdbb" stroke-width="0.7"/>
<rect x="230.3" y="387.8" width="77.19999999999999" height="14.399999999999977" fill="none" stroke="#c3cdbb" stroke-width="0.7"/>
<line x1="230.3" y1="395.0" x2="307.5" y2="395.0" stroke="#c3cdbb" stroke-width="0.6"/>
<line x1="234.16000000000003" y1="387.8" x2="234.16000000000003" y2="402.2" stroke="#c3cdbb" stroke-width="0.6"/>
<line x1="238.02" y1="387.8" x2="238.02" y2="402.2" stroke="#c3cdbb" stroke-width="0.6"/>
<line x1="241.88" y1="387.8" x2="241.88" y2="402.2" stroke="#c3cdbb" stroke-width="0.6"/>
<line x1="245.74" y1="387.8" x2="245.74" y2="402.2" stroke="#c3cdbb" stroke-width="0.6"/>
<line x1="249.60000000000002" y1="387.8" x2="249.60000000000002" y2="402.2" stroke="#c3cdbb" stroke-width="0.6"/>
<line x1="253.46" y1="387.8" x2="253.46" y2="402.2" stroke="#c3cdbb" stroke-width="0.6"/>
<line x1="257.32" y1="387.8" x2="257.32" y2="402.2" stroke="#c3cdbb" stroke-width="0.6"/>
<line x1="261.18" y1="387.8" x2="261.18" y2="402.2" stroke="#c3cdbb" stroke-width="0.6"/>
<line x1="265.04" y1="387.8" x2="265.04" y2="402.2" stroke="#c3cdbb" stroke-width="0.6"/>
<line x1="268.9" y1="387.8" x2="268.9" y2="402.2" stroke="#c3cdbb" stroke-width="0.6"/>
<line x1="272.76" y1="387.8" x2="272.76" y2="402.2" stroke="#c3cdbb" stroke-width="0.6"/>
<line x1="276.62" y1="387.8" x2="276.62" y2="402.2" stroke="#c3cdbb" stroke-width="0.6"/>
<line x1="280.48" y1="387.8" x2="280.48" y2="402.2" stroke="#c3cdbb" stroke-width="0.6"/>
<line x1="284.34" y1="387.8" x2="284.34" y2="402.2" stroke="#c3cdbb" stroke-width="0.6"/>
<line x1="288.2" y1="387.8" x2="288.2" y2="402.2" stroke="#c3cdbb" stroke-width="0.6"/>
<line x1="292.06" y1="387.8" x2="292.06" y2="402.2" stroke="#c3cdbb" stroke-width="0.6"/>
<line x1="295.92" y1="387.8" x2="295.92" y2="402.2" stroke="#c3cdbb" stroke-width="0.6"/>
<line x1="299.78" y1="387.8" x2="299.78" y2="402.2" stroke="#c3cdbb" stroke-width="0.6"/>
<line x1="303.64" y1="387.8" x2="303.64" y2="402.2" stroke="#c3cdbb" stroke-width="0.6"/>
<rect x="230.3" y="427.5" width="77.19999999999999" height="18.5" fill="none" stroke="#c3cdbb" stroke-width="0.7"/>
<rect x="230.3" y="431.0" width="77.19999999999999" height="11.5" fill="none" stroke="#c3cdbb" stroke-width="0.7"/>
<line x1="230.3" y1="436.75" x2="307.5" y2="436.75" stroke="#c3cdbb" stroke-width="0.6"/>
<line x1="234.16000000000003" y1="431.0" x2="234.16000000000003" y2="442.5" stroke="#c3cdbb" stroke-width="0.6"/>
<line x1="238.02" y1="431.0" x2="238.02" y2="442.5" stroke="#c3cdbb" stroke-width="0.6"/>
<line x1="241.88" y1="431.0" x2="241.88" y2="442.5" stroke="#c3cdbb" stroke-width="0.6"/>
<line x1="245.74" y1="431.0" x2="245.74" y2="442.5" stroke="#c3cdbb" stroke-width="0.6"/>
<line x1="249.60000000000002" y1="431.0" x2="249.60000000000002" y2="442.5" stroke="#c3cdbb" stroke-width="0.6"/>
<line x1="253.46" y1="431.0" x2="253.46" y2="442.5" stroke="#c3cdbb" stroke-width="0.6"/>
<line x1="257.32" y1="431.0" x2="257.32" y2="442.5" stroke="#c3cdbb" stroke-width="0.6"/>
<line x1="261.18" y1="431.0" x2="261.18" y2="442.5" stroke="#c3cdbb" stroke-width="0.6"/>
<line x1="265.04" y1="431.0" x2="265.04" y2="442.5" stroke="#c3cdbb" stroke-width="0.6"/>
<line x1="268.9" y1="431.0" x2="268.9" y2="442.5" stroke="#c3cdbb" stroke-width="0.6"/>
<line x1="272.76" y1="431.0" x2="272.76" y2="442.5" stroke="#c3cdbb" stroke-width="0.6"/>
<line x1="276.62" y1="431.0" x2="276.62" y2="442.5" stroke="#c3cdbb" stroke-width="0.6"/>
<line x1="280.48" y1="431.0" x2="280.48" y2="442.5" stroke="#c3cdbb" stroke-width="0.6"/>
<line x1="284.34" y1="431.0" x2="284.34" y2="442.5" stroke="#c3cdbb" stroke-width="0.6"/>
<line x1="288.2" y1="431.0" x2="288.2" y2="442.5" stroke="#c3cdbb" stroke-width="0.6"/>
<line x1="292.06" y1="431.0" x2="292.06" y2="442.5" stroke="#c3cdbb" stroke-width="0.6"/>
<line x1="295.92" y1="431.0" x2="295.92" y2="442.5" stroke="#c3cdbb" stroke-width="0.6"/>
<line x1="299.78" y1="431.0" x2="299.78" y2="442.5" stroke="#c3cdbb" stroke-width="0.6"/>
<line x1="303.64" y1="431.0" x2="303.64" y2="442.5" stroke="#c3cdbb" stroke-width="0.6"/>
<line x1="309.5" y1="182" x2="309.5" y2="451" stroke="#8a9086" stroke-width="1.2" stroke-dasharray="3 1.5"/>
<line x1="315.9" y1="182" x2="315.9" y2="451" stroke="#8a9086" stroke-width="1.2" stroke-dasharray="3 1.5"/>
<line x1="160" y1="444.5" x2="316" y2="444.5" stroke="#8a9086" stroke-width="1.2" stroke-dasharray="3 1.5"/>
<line x1="160" y1="451" x2="316" y2="451" stroke="#8a9086" stroke-width="1.2" stroke-dasharray="3 1.5"/>
<rect x="309.5" y="357.5" width="6.4" height="8.5" fill="none" stroke="#999" stroke-width="0.6"/>
<rect x="309.5" y="286" width="6.4" height="6" fill="none" stroke="#999" stroke-width="0.6"/>
<rect x="309.5" y="259" width="6.4" height="6" fill="none" stroke="#999" stroke-width="0.6"/>
<rect x="211" y="182" width="11" height="10" fill="none" stroke="#999" stroke-width="0.6"/>
<rect x="223" y="182" width="9" height="10" fill="none" stroke="#999" stroke-width="0.6"/>
<rect x="297" y="182" width="11" height="10" fill="none" stroke="#999" stroke-width="0.6"/>
<rect x="285" y="182" width="9" height="10" fill="none" stroke="#bbb" stroke-width="0.6"/>
<rect x="225" y="443" width="8" height="8" fill="none" stroke="#999" stroke-width="0.6"/>
<rect x="305" y="443" width="8" height="8" fill="none" stroke="#999" stroke-width="0.6"/>
<rect x="229.5" y="294.5" width="78.5" height="22.5" fill="none" stroke="#555" stroke-width="0.9"/>
<line x1="252.5" y1="294.5" x2="252.5" y2="317" stroke="#555" stroke-width="0.8"/>
<line x1="269" y1="294.5" x2="269" y2="317" stroke="#555" stroke-width="0.8"/>
<line x1="285" y1="294.5" x2="285" y2="317" stroke="#555" stroke-width="0.8"/>
<line x1="252.5" y1="299" x2="285" y2="299" stroke="#777" stroke-width="0.6"/>
<line x1="229.5" y1="303" x2="252.5" y2="303" stroke="#777" stroke-width="0.7" stroke-dasharray="4 2"/>
<line x1="285" y1="303" x2="308" y2="303" stroke="#777" stroke-width="0.7" stroke-dasharray="4 2"/>
<path d="M269,317 L269.0,309.0 A8,8 0 0 0 261.0,317.0" fill="none" stroke="#6e6e6e" stroke-width="0.6"/>
<path d="M285,317 L285.0,309.0 A8,8 0 0 0 277.0,317.0" fill="none" stroke="#6e6e6e" stroke-width="0.6"/>
<path d="M231,317 L231.0,326.0 A9,9 0 0 0 240.0,317.0" fill="none" stroke="#6e6e6e" stroke-width="0.6"/>
<path d="M307,317 L307.0,326.0 A9,9 0 0 1 298.0,317.0" fill="none" stroke="#6e6e6e" stroke-width="0.6"/>
<line x1="222.5" y1="286" x2="222.5" y2="351" stroke="#c9d0c4" stroke-width="1.0"/>
<line x1="291" y1="319" x2="291" y2="337" stroke="#555" stroke-width="0.6"/>
<line x1="289" y1="337" x2="293" y2="337" stroke="#555" stroke-width="0.6"/>
<line x1="289" y1="319" x2="293" y2="319" stroke="#555" stroke-width="0.6"/>
<line x1="312" y1="59" x2="312" y2="180" stroke="#fff" stroke-width="2.8"/>
<line x1="312" y1="59" x2="312" y2="180" stroke="#000" stroke-width="1.7" stroke-dasharray="1.6 2.7"/>
<line x1="315" y1="160" x2="315" y2="308" stroke="#aaa" stroke-width="0.8" stroke-dasharray="3 2"/>
<rect x="329.2" y="174.6" width="23.5" height="100.1" fill="none" stroke="#9aa592" stroke-width="0.7"/>
<line x1="333.5" y1="174.6" x2="333.5" y2="274.7" stroke="#8c9686" stroke-width="0.6"/>
<line x1="348" y1="174.6" x2="348" y2="274.7" stroke="#8c9686" stroke-width="0.6"/>
<line x1="333.5" y1="177.125" x2="348" y2="177.125" stroke="#8c9686" stroke-width="0.6"/>
<line x1="333.5" y1="180.775" x2="348" y2="180.775" stroke="#8c9686" stroke-width="0.6"/>
<line x1="333.5" y1="184.425" x2="348" y2="184.425" stroke="#8c9686" stroke-width="0.6"/>
<line x1="333.5" y1="188.07500000000002" x2="348" y2="188.07500000000002" stroke="#8c9686" stroke-width="0.6"/>
<line x1="333.5" y1="191.72500000000002" x2="348" y2="191.72500000000002" stroke="#8c9686" stroke-width="0.6"/>
<line x1="333.5" y1="195.375" x2="348" y2="195.375" stroke="#8c9686" stroke-width="0.6"/>
<line x1="333.5" y1="199.025" x2="348" y2="199.025" stroke="#8c9686" stroke-width="0.6"/>
<line x1="333.5" y1="202.675" x2="348" y2="202.675" stroke="#8c9686" stroke-width="0.6"/>
<line x1="333.5" y1="206.32500000000002" x2="348" y2="206.32500000000002" stroke="#8c9686" stroke-width="0.6"/>
<line x1="333.5" y1="209.97500000000002" x2="348" y2="209.97500000000002" stroke="#8c9686" stroke-width="0.6"/>
<line x1="333.5" y1="213.625" x2="348" y2="213.625" stroke="#8c9686" stroke-width="0.6"/>
<line x1="333.5" y1="217.275" x2="348" y2="217.275" stroke="#8c9686" stroke-width="0.6"/>
<line x1="333.5" y1="220.925" x2="348" y2="220.925" stroke="#8c9686" stroke-width="0.6"/>
<line x1="333.5" y1="224.57500000000002" x2="348" y2="224.57500000000002" stroke="#8c9686" stroke-width="0.6"/>
<line x1="333.5" y1="228.22500000000002" x2="348" y2="228.22500000000002" stroke="#8c9686" stroke-width="0.6"/>
<line x1="333.5" y1="231.875" x2="348" y2="231.875" stroke="#8c9686" stroke-width="0.6"/>
<line x1="333.5" y1="235.525" x2="348" y2="235.525" stroke="#8c9686" stroke-width="0.6"/>
<line x1="333.5" y1="239.175" x2="348" y2="239.175" stroke="#8c9686" stroke-width="0.6"/>
<line x1="333.5" y1="242.825" x2="348" y2="242.825" stroke="#8c9686" stroke-width="0.6"/>
<line x1="333.5" y1="246.47500000000002" x2="348" y2="246.47500000000002" stroke="#8c9686" stroke-width="0.6"/>
<line x1="333.5" y1="250.125" x2="348" y2="250.125" stroke="#8c9686" stroke-width="0.6"/>
<line x1="333.5" y1="253.775" x2="348" y2="253.775" stroke="#8c9686" stroke-width="0.6"/>
<line x1="333.5" y1="257.425" x2="348" y2="257.425" stroke="#8c9686" stroke-width="0.6"/>
<line x1="333.5" y1="261.075" x2="348" y2="261.075" stroke="#8c9686" stroke-width="0.6"/>
<line x1="333.5" y1="264.725" x2="348" y2="264.725" stroke="#8c9686" stroke-width="0.6"/>
<line x1="333.5" y1="268.375" x2="348" y2="268.375" stroke="#8c9686" stroke-width="0.6"/>
<line x1="333.5" y1="272.025" x2="348" y2="272.025" stroke="#8c9686" stroke-width="0.6"/>
<line x1="340.8" y1="174.6" x2="340.8" y2="274.7" stroke="#6c7468" stroke-width="0.8"/>
<line x1="363.6" y1="198.4" x2="363.6" y2="265" stroke="#555" stroke-width="1.6"/>
<line x1="361.5" y1="196.5" x2="363.6" y2="198.4" stroke="#777" stroke-width="0.5"/>
<line x1="365.7" y1="196.5" x2="363.6" y2="198.4" stroke="#777" stroke-width="0.5"/>
<rect x="364.1" y="270.7" width="8" height="8" fill="none" stroke="#777" stroke-width="0.8"/>
<rect x="366.1" y="272.7" width="4" height="4" fill="none" stroke="#999" stroke-width="0.6"/>
<rect x="364" y="185.4" width="9" height="9.3" fill="none" stroke="#7c8478" stroke-width="0.9"/>
<rect x="366" y="187.4" width="5" height="5.3" fill="none" stroke="#999" stroke-width="0.6"/>
<rect x="383.3" y="160" width="7.199999999999989" height="117.5" fill="none" stroke="#777" stroke-width="0.7"/>
<line x1="383.3" y1="163.6" x2="390.5" y2="163.6" stroke="#888" stroke-width="0.6"/>
<line x1="383.3" y1="167.2" x2="390.5" y2="167.2" stroke="#888" stroke-width="0.6"/>
<line x1="383.3" y1="170.8" x2="390.5" y2="170.8" stroke="#888" stroke-width="0.6"/>
<line x1="383.3" y1="174.4" x2="390.5" y2="174.4" stroke="#888" stroke-width="0.6"/>
<line x1="383.3" y1="178.0" x2="390.5" y2="178.0" stroke="#888" stroke-width="0.6"/>
<line x1="383.3" y1="181.6" x2="390.5" y2="181.6" stroke="#888" stroke-width="0.6"/>
<line x1="383.3" y1="185.2" x2="390.5" y2="185.2" stroke="#888" stroke-width="0.6"/>
<line x1="383.3" y1="188.8" x2="390.5" y2="188.8" stroke="#888" stroke-width="0.6"/>
<line x1="383.3" y1="192.4" x2="390.5" y2="192.4" stroke="#888" stroke-width="0.6"/>
<line x1="383.3" y1="196.0" x2="390.5" y2="196.0" stroke="#888" stroke-width="0.6"/>
<line x1="383.3" y1="199.6" x2="390.5" y2="199.6" stroke="#888" stroke-width="0.6"/>
<line x1="383.3" y1="203.2" x2="390.5" y2="203.2" stroke="#888" stroke-width="0.6"/>
<line x1="383.3" y1="206.8" x2="390.5" y2="206.8" stroke="#888" stroke-width="0.6"/>
<line x1="383.3" y1="210.4" x2="390.5" y2="210.4" stroke="#888" stroke-width="0.6"/>
<line x1="383.3" y1="214.0" x2="390.5" y2="214.0" stroke="#888" stroke-width="0.6"/>
<line x1="383.3" y1="217.6" x2="390.5" y2="217.6" stroke="#888" stroke-width="0.6"/>
<line x1="383.3" y1="221.2" x2="390.5" y2="221.2" stroke="#888" stroke-width="0.6"/>
<line x1="383.3" y1="224.8" x2="390.5" y2="224.8" stroke="#888" stroke-width="0.6"/>
<line x1="383.3" y1="228.4" x2="390.5" y2="228.4" stroke="#888" stroke-width="0.6"/>
<line x1="383.3" y1="232.0" x2="390.5" y2="232.0" stroke="#888" stroke-width="0.6"/>
<line x1="383.3" y1="235.60000000000002" x2="390.5" y2="235.60000000000002" stroke="#888" stroke-width="0.6"/>
<line x1="383.3" y1="239.2" x2="390.5" y2="239.2" stroke="#888" stroke-width="0.6"/>
<line x1="383.3" y1="242.8" x2="390.5" y2="242.8" stroke="#888" stroke-width="0.6"/>
<line x1="383.3" y1="246.4" x2="390.5" y2="246.4" stroke="#888" stroke-width="0.6"/>
<line x1="383.3" y1="250.0" x2="390.5" y2="250.0" stroke="#888" stroke-width="0.6"/>
<line x1="383.3" y1="253.60000000000002" x2="390.5" y2="253.60000000000002" stroke="#888" stroke-width="0.6"/>
<line x1="383.3" y1="257.2" x2="390.5" y2="257.2" stroke="#888" stroke-width="0.6"/>
<line x1="383.3" y1="260.8" x2="390.5" y2="260.8" stroke="#888" stroke-width="0.6"/>
<line x1="383.3" y1="264.4" x2="390.5" y2="264.4" stroke="#888" stroke-width="0.6"/>
<line x1="383.3" y1="268.0" x2="390.5" y2="268.0" stroke="#888" stroke-width="0.6"/>
<line x1="383.3" y1="271.6" x2="390.5" y2="271.6" stroke="#888" stroke-width="0.6"/>
<line x1="379.4" y1="160" x2="379.4" y2="277.5" stroke="#9aa592" stroke-width="0.6"/>
<line x1="391" y1="160" x2="391" y2="279" stroke="#111" stroke-width="2.2"/>
<line x1="391" y1="279" x2="391" y2="308" stroke="#888" stroke-width="0.8"/>
<line x1="391" y1="222" x2="442" y2="222" stroke="#777" stroke-width="0.9"/>
<line x1="442.5" y1="222" x2="442.5" y2="252" stroke="#777" stroke-width="0.9"/>
<rect x="396" y="226" width="33" height="22" fill="none" stroke="#999" stroke-width="0.6" stroke-dasharray="2 1"/>
<line x1="396" y1="226" x2="429" y2="248" stroke="#999" stroke-width="0.5"/>
<line x1="396" y1="248" x2="429" y2="226" stroke="#999" stroke-width="0.5"/>
<line x1="421" y1="226" x2="421" y2="248" stroke="#999" stroke-width="0.6"/>
<line x1="433" y1="226" x2="433" y2="248" stroke="#999" stroke-width="0.6"/>
<rect x="447.5" y="268" width="6" height="32" fill="none" stroke="#777" stroke-width="0.7"/>
<path d="M352,300 L352.0,292.0 A8,8 0 0 0 344.0,300.0" fill="none" stroke="#999" stroke-width="0.5"/>
<path d="M372,300 L372.0,292.0 A8,8 0 0 0 364.0,300.0" fill="none" stroke="#999" stroke-width="0.5"/>
<path d="M410,300 L410.0,291.0 A9,9 0 0 0 401.0,300.0" fill="none" stroke="#999" stroke-width="0.5"/>
<line x1="347" y1="300" x2="390" y2="300" stroke="#aaa" stroke-width="0.5" stroke-dasharray="2 1.5"/>
<line x1="336" y1="308" x2="464.5" y2="308" stroke="#fff" stroke-width="2.8"/>
<line x1="336" y1="308" x2="464.5" y2="308" stroke="#000" stroke-width="1.7" stroke-dasharray="1.6 2.7"/>
<line x1="338.8" y1="310.7" x2="710" y2="310.7" stroke="#999" stroke-width="0.8"/>
<line x1="340.5" y1="313.3" x2="526" y2="313.3" stroke="#6e6e6e" stroke-width="0.8"/>
<line x1="338.8" y1="310.7" x2="338.8" y2="483.5" stroke="#999" stroke-width="0.8"/>
<line x1="340.5" y1="313.3" x2="340.5" y2="483.5" stroke="#6e6e6e" stroke-width="0.8"/>
<line x1="19" y1="483.5" x2="340.5" y2="483.5" stroke="#6e6e6e" stroke-width="0.8"/>
<line x1="21.5" y1="480.5" x2="336" y2="480.5" stroke="#999" stroke-width="0.8"/>
<line x1="336" y1="478.5" x2="336" y2="480.5" stroke="#6e6e6e" stroke-width="0.8"/>
<rect x="312.5" y="59.5" width="27" height="8.5" fill="#fff"/>
<line x1="312" y1="65" x2="339" y2="65" stroke="#888" stroke-width="0.8"/>
<line x1="312" y1="68.3" x2="339" y2="68.3" stroke="#888" stroke-width="0.8"/>
<line x1="344" y1="62.8" x2="710" y2="62.8" stroke="#c3c3c3" stroke-width="1.3"/>
<line x1="344" y1="60.3" x2="710" y2="60.3" stroke="#999" stroke-width="0.5"/>
<line x1="312" y1="59" x2="714" y2="59" stroke="#fff" stroke-width="2.8"/>
<line x1="312" y1="59" x2="714" y2="59" stroke="#000" stroke-width="1.7" stroke-dasharray="1.6 2.7"/>
<rect x="338.5" y="59" width="5.699999999999989" height="9.5" fill="#fff" stroke="#777" stroke-width="0.7"/>
<rect x="424" y="59" width="6" height="9.5" fill="#fff" stroke="#777" stroke-width="0.7"/>
<rect x="510" y="59" width="5.5" height="9.5" fill="#fff" stroke="#777" stroke-width="0.7"/>
<rect x="596" y="59" width="5" height="9.5" fill="#fff" stroke="#777" stroke-width="0.7"/>
<line x1="316" y1="71" x2="614" y2="71" stroke="#a39a9a" stroke-width="0.7" stroke-dasharray="3 2"/>
<line x1="320.7" y1="74.2" x2="320.7" y2="159" stroke="#6e6e6e" stroke-width="0.7"/>
<line x1="320.7" y1="74.2" x2="437" y2="74.2" stroke="#8a8a8a" stroke-width="0.6"/>
<line x1="316.5" y1="68" x2="316.5" y2="160" stroke="#999" stroke-width="0.7"/>
<rect x="323.7" y="79" width="7.7" height="25.6" fill="none" stroke="#6a6a6a" stroke-width="0.7"/>
<line x1="323.7" y1="87.53333333333333" x2="331.4" y2="87.53333333333333" stroke="#6a6a6a" stroke-width="0.6"/>
<line x1="323.7" y1="96.06666666666666" x2="331.4" y2="96.06666666666666" stroke="#6a6a6a" stroke-width="0.6"/>
<rect x="324.5" y="79.8" width="6.1" height="24.0" fill="none" stroke="#aaa" stroke-width="0.4"/>
<g transform="translate(339.2,81.3) rotate(90)" fill="none" stroke="#6a6a6a" stroke-width="0.6"><path d="M-3.6,3.24 L-3.6,0 A3.6,3.6 0 0 1 3.6,0 L3.6,3.24 Z"/><path d="M-2.4000000000000004,3.24 L-2.4000000000000004,0.3 A2.4000000000000004,2.4000000000000004 0 0 1 2.4000000000000004,0.3 L2.4000000000000004,3.24" stroke="#999" stroke-width="0.45"/></g>
<g transform="translate(339.2,91.6) rotate(90)" fill="none" stroke="#6a6a6a" stroke-width="0.6"><path d="M-3.6,3.24 L-3.6,0 A3.6,3.6 0 0 1 3.6,0 L3.6,3.24 Z"/><path d="M-2.4000000000000004,3.24 L-2.4000000000000004,0.3 A2.4000000000000004,2.4000000000000004 0 0 1 2.4000000000000004,0.3 L2.4000000000000004,3.24" stroke="#999" stroke-width="0.45"/></g>
<g transform="translate(339.2,101.9) rotate(90)" fill="none" stroke="#6a6a6a" stroke-width="0.6"><path d="M-3.6,3.24 L-3.6,0 A3.6,3.6 0 0 1 3.6,0 L3.6,3.24 Z"/><path d="M-2.4000000000000004,3.24 L-2.4000000000000004,0.3 A2.4000000000000004,2.4000000000000004 0 0 1 2.4000000000000004,0.3 L2.4000000000000004,3.24" stroke="#999" stroke-width="0.45"/></g>
<rect x="353.7" y="76.4" width="17.5" height="8.8" fill="none" stroke="#6a6a6a" stroke-width="0.7"/>
<line x1="362.45" y1="76.4" x2="362.45" y2="85.2" stroke="#6a6a6a" stroke-width="0.6"/>
<rect x="354.5" y="77.2" width="15.9" height="7.200000000000001" fill="none" stroke="#aaa" stroke-width="0.4"/>
<rect x="382.3" y="76.4" width="25.8" height="8.8" fill="none" stroke="#6a6a6a" stroke-width="0.7"/>
<line x1="390.90000000000003" y1="76.4" x2="390.90000000000003" y2="85.2" stroke="#6a6a6a" stroke-width="0.6"/>
<line x1="399.5" y1="76.4" x2="399.5" y2="85.2" stroke="#6a6a6a" stroke-width="0.6"/>
<rect x="383.1" y="77.2" width="24.2" height="7.200000000000001" fill="none" stroke="#aaa" stroke-width="0.4"/>
<g transform="translate(355.5,91.5) rotate(180)" fill="none" stroke="#6a6a6a" stroke-width="0.6"><path d="M-3.6,3.24 L-3.6,0 A3.6,3.6 0 0 1 3.6,0 L3.6,3.24 Z"/><path d="M-2.4000000000000004,3.24 L-2.4000000000000004,0.3 A2.4000000000000004,2.4000000000000004 0 0 1 2.4000000000000004,0.3 L2.4000000000000004,3.24" stroke="#999" stroke-width="0.45"/></g>
<g transform="translate(368.5,91.5) rotate(180)" fill="none" stroke="#6a6a6a" stroke-width="0.6"><path d="M-3.6,3.24 L-3.6,0 A3.6,3.6 0 0 1 3.6,0 L3.6,3.24 Z"/><path d="M-2.4000000000000004,3.24 L-2.4000000000000004,0.3 A2.4000000000000004,2.4000000000000004 0 0 1 2.4000000000000004,0.3 L2.4000000000000004,3.24" stroke="#999" stroke-width="0.45"/></g>
<g transform="translate(384.5,91.5) rotate(180)" fill="none" stroke="#6a6a6a" stroke-width="0.6"><path d="M-3.6,3.24 L-3.6,0 A3.6,3.6 0 0 1 3.6,0 L3.6,3.24 Z"/><path d="M-2.4000000000000004,3.24 L-2.4000000000000004,0.3 A2.4000000000000004,2.4000000000000004 0 0 1 2.4000000000000004,0.3 L2.4000000000000004,3.24" stroke="#999" stroke-width="0.45"/></g>
<g transform="translate(395,91.5) rotate(180)" fill="none" stroke="#6a6a6a" stroke-width="0.6"><path d="M-3.6,3.24 L-3.6,0 A3.6,3.6 0 0 1 3.6,0 L3.6,3.24 Z"/><path d="M-2.4000000000000004,3.24 L-2.4000000000000004,0.3 A2.4000000000000004,2.4000000000000004 0 0 1 2.4000000000000004,0.3 L2.4000000000000004,3.24" stroke="#999" stroke-width="0.45"/></g>
<g transform="translate(404.5,91.5) rotate(180)" fill="none" stroke="#6a6a6a" stroke-width="0.6"><path d="M-3.6,3.24 L-3.6,0 A3.6,3.6 0 0 1 3.6,0 L3.6,3.24 Z"/><path d="M-2.4000000000000004,3.24 L-2.4000000000000004,0.3 A2.4000000000000004,2.4000000000000004 0 0 1 2.4000000000000004,0.3 L2.4000000000000004,3.24" stroke="#999" stroke-width="0.45"/></g>
<rect x="364.4" y="100.3" width="9.3" height="7.8" fill="none" stroke="#666" stroke-width="0.8"/>
<rect x="366" y="101.8" width="6.1" height="4.8" fill="none" stroke="#999" stroke-width="0.5"/>
<g transform="translate(330.5,137) rotate(0)" fill="none" stroke="#6a6a6a" stroke-width="0.6"><path d="M-3.6,3.24 L-3.6,0 A3.6,3.6 0 0 1 3.6,0 L3.6,3.24 Z"/><path d="M-2.4000000000000004,3.24 L-2.4000000000000004,0.3 A2.4000000000000004,2.4000000000000004 0 0 1 2.4000000000000004,0.3 L2.4000000000000004,3.24" stroke="#999" stroke-width="0.45"/></g>
<g transform="translate(341,137) rotate(0)" fill="none" stroke="#6a6a6a" stroke-width="0.6"><path d="M-3.6,3.24 L-3.6,0 A3.6,3.6 0 0 1 3.6,0 L3.6,3.24 Z"/><path d="M-2.4000000000000004,3.24 L-2.4000000000000004,0.3 A2.4000000000000004,2.4000000000000004 0 0 1 2.4000000000000004,0.3 L2.4000000000000004,3.24" stroke="#999" stroke-width="0.45"/></g>
<g transform="translate(357,137) rotate(0)" fill="none" stroke="#6a6a6a" stroke-width="0.6"><path d="M-3.6,3.24 L-3.6,0 A3.6,3.6 0 0 1 3.6,0 L3.6,3.24 Z"/><path d="M-2.4000000000000004,3.24 L-2.4000000000000004,0.3 A2.4000000000000004,2.4000000000000004 0 0 1 2.4000000000000004,0.3 L2.4000000000000004,3.24" stroke="#999" stroke-width="0.45"/></g>
<g transform="translate(369,137) rotate(0)" fill="none" stroke="#6a6a6a" stroke-width="0.6"><path d="M-3.6,3.24 L-3.6,0 A3.6,3.6 0 0 1 3.6,0 L3.6,3.24 Z"/><path d="M-2.4000000000000004,3.24 L-2.4000000000000004,0.3 A2.4000000000000004,2.4000000000000004 0 0 1 2.4000000000000004,0.3 L2.4000000000000004,3.24" stroke="#999" stroke-width="0.45"/></g>
<g transform="translate(384,137) rotate(0)" fill="none" stroke="#6a6a6a" stroke-width="0.6"><path d="M-3.6,3.24 L-3.6,0 A3.6,3.6 0 0 1 3.6,0 L3.6,3.24 Z"/><path d="M-2.4000000000000004,3.24 L-2.4000000000000004,0.3 A2.4000000000000004,2.4000000000000004 0 0 1 2.4000000000000004,0.3 L2.4000000000000004,3.24" stroke="#999" stroke-width="0.45"/></g>
<g transform="translate(396,137) rotate(0)" fill="none" stroke="#6a6a6a" stroke-width="0.6"><path d="M-3.6,3.24 L-3.6,0 A3.6,3.6 0 0 1 3.6,0 L3.6,3.24 Z"/><path d="M-2.4000000000000004,3.24 L-2.4000000000000004,0.3 A2.4000000000000004,2.4000000000000004 0 0 1 2.4000000000000004,0.3 L2.4000000000000004,3.24" stroke="#999" stroke-width="0.45"/></g>
<g transform="translate(409,137) rotate(0)" fill="none" stroke="#6a6a6a" stroke-width="0.6"><path d="M-3.6,3.24 L-3.6,0 A3.6,3.6 0 0 1 3.6,0 L3.6,3.24 Z"/><path d="M-2.4000000000000004,3.24 L-2.4000000000000004,0.3 A2.4000000000000004,2.4000000000000004 0 0 1 2.4000000000000004,0.3 L2.4000000000000004,3.24" stroke="#999" stroke-width="0.45"/></g>
<g transform="translate(420,137) rotate(0)" fill="none" stroke="#6a6a6a" stroke-width="0.6"><path d="M-3.6,3.24 L-3.6,0 A3.6,3.6 0 0 1 3.6,0 L3.6,3.24 Z"/><path d="M-2.4000000000000004,3.24 L-2.4000000000000004,0.3 A2.4000000000000004,2.4000000000000004 0 0 1 2.4000000000000004,0.3 L2.4000000000000004,3.24" stroke="#999" stroke-width="0.45"/></g>
<rect x="326" y="143.4" width="17" height="8.8" fill="none" stroke="#6a6a6a" stroke-width="0.7"/>
<line x1="334.5" y1="143.4" x2="334.5" y2="152.20000000000002" stroke="#6a6a6a" stroke-width="0.6"/>
<rect x="326.8" y="144.20000000000002" width="15.4" height="7.200000000000001" fill="none" stroke="#aaa" stroke-width="0.4"/>
<rect x="353.7" y="143.4" width="17.5" height="8.8" fill="none" stroke="#6a6a6a" stroke-width="0.7"/>
<line x1="362.45" y1="143.4" x2="362.45" y2="152.20000000000002" stroke="#6a6a6a" stroke-width="0.6"/>
<rect x="354.5" y="144.20000000000002" width="15.9" height="7.200000000000001" fill="none" stroke="#aaa" stroke-width="0.4"/>
<rect x="382.3" y="143.4" width="17.099999999999966" height="8.8" fill="none" stroke="#6a6a6a" stroke-width="0.7"/>
<line x1="390.85" y1="143.4" x2="390.85" y2="152.20000000000002" stroke="#6a6a6a" stroke-width="0.6"/>
<rect x="383.1" y="144.20000000000002" width="15.499999999999966" height="7.200000000000001" fill="none" stroke="#aaa" stroke-width="0.4"/>
<rect x="407" y="143.4" width="12" height="8.8" fill="none" stroke="#6a6a6a" stroke-width="0.7"/>
<rect x="407.8" y="144.20000000000002" width="10.4" height="7.200000000000001" fill="none" stroke="#aaa" stroke-width="0.4"/>
<line x1="320.7" y1="154.5" x2="405" y2="154.5" stroke="#8a8a8a" stroke-width="0.6"/>
<rect x="406" y="137.6" width="24.4" height="21.4" fill="none" stroke="#777" stroke-width="0.6"/>
<line x1="406" y1="137.6" x2="430.4" y2="159.0" stroke="#777" stroke-width="0.5"/>
<line x1="406" y1="159.0" x2="430.4" y2="137.6" stroke="#777" stroke-width="0.5"/>
<path d="M316.5,110 L328.5,110.0 A12,12 0 0 1 322.5,120.4" fill="none" stroke="#888" stroke-width="0.5"/>
<path d="M316.5,132 L328.5,132.0 A12,12 0 0 0 322.5,121.6" fill="none" stroke="#888" stroke-width="0.5"/>
<text x="389.5" y="110" font-size="3.74" fill="#1a1a1a" text-anchor="middle" textLength="29" lengthAdjust="spacingAndGlyphs" stroke="#1a1a1a" stroke-width="0.12">OBČERSTVENÍ</text>
<text x="389.5" y="116" font-size="3.74" fill="#1a1a1a" text-anchor="middle" textLength="18" lengthAdjust="spacingAndGlyphs" stroke="#1a1a1a" stroke-width="0.12">U BAZÉNU</text>
<text x="389.5" y="122" font-size="3.74" fill="#1a1a1a" text-anchor="middle" textLength="50" lengthAdjust="spacingAndGlyphs" stroke="#1a1a1a" stroke-width="0.12">(SEZENÍ PRO CCA 35 OS.)</text>
<text x="423" y="120" font-size="3.74" fill="#1a1a1a" text-anchor="middle" textLength="13.5" lengthAdjust="spacingAndGlyphs" transform="rotate(-90 423 120)" stroke="#1a1a1a" stroke-width="0.12">min. 350</text>
<line x1="412" y1="120" x2="437" y2="120" stroke="#555" stroke-width="0.5"/>
<line x1="433" y1="118" x2="437" y2="120" stroke="#555" stroke-width="0.5"/>
<line x1="433" y1="122" x2="437" y2="120" stroke="#555" stroke-width="0.5"/>
<line x1="437.4" y1="70" x2="437.4" y2="123" stroke="#6e6e6e" stroke-width="0.8"/>
<line x1="440.2" y1="70" x2="440.2" y2="123" stroke="#999" stroke-width="0.8"/>
<line x1="507.9" y1="70" x2="507.9" y2="123" stroke="#6e6e6e" stroke-width="0.8"/>
<line x1="511.7" y1="70" x2="511.7" y2="123" stroke="#999" stroke-width="0.8"/>
<rect x="446" y="77" width="58" height="38" fill="none" stroke="#888" stroke-width="0.6"/>
<rect x="458.3" y="69.8" width="23.7" height="5.7" fill="none" stroke="#666" stroke-width="0.7"/>
<line x1="466" y1="69.8" x2="466" y2="75.5" stroke="#6e6e6e" stroke-width="0.5"/>
<line x1="474" y1="69.8" x2="474" y2="75.5" stroke="#6e6e6e" stroke-width="0.5"/>
<rect x="447" y="70.5" width="7" height="4.5" fill="none" stroke="#666" stroke-width="0.7"/>
<rect x="493.6" y="69.8" width="9.4" height="5.7" fill="none" stroke="#777" stroke-width="0.6"/>
<text x="476.5" y="84.3" font-size="3.74" fill="#1a1a1a" text-anchor="middle" textLength="38" lengthAdjust="spacingAndGlyphs" stroke="#1a1a1a" stroke-width="0.12">VÝDEJNÍ PULT OBČ.</text>
<text x="476.5" y="90" font-size="3.74" fill="#1a1a1a" text-anchor="middle" textLength="15" lengthAdjust="spacingAndGlyphs" stroke="#1a1a1a" stroke-width="0.12">15,30 m²</text>
<rect x="467.3" y="92.3" width="9" height="16.7" fill="none" stroke="#777" stroke-width="0.6"/>
<line x1="467.3" y1="92.3" x2="476.3" y2="109.0" stroke="#777" stroke-width="0.5"/>
<line x1="467.3" y1="109.0" x2="476.3" y2="92.3" stroke="#777" stroke-width="0.5"/>
<rect x="476.6" y="92.3" width="9" height="16.7" fill="none" stroke="#777" stroke-width="0.6"/>
<line x1="476.6" y1="92.3" x2="485.6" y2="109.0" stroke="#777" stroke-width="0.5"/>
<line x1="476.6" y1="109.0" x2="485.6" y2="92.3" stroke="#777" stroke-width="0.5"/>
<line x1="437.4" y1="123" x2="451.7" y2="123" stroke="#888" stroke-width="0.6"/>
<line x1="492" y1="123" x2="511.7" y2="123" stroke="#888" stroke-width="0.6"/>
<path d="M451.7,126.6 L451.7,112.6 A14,14 0 0 1 465.7,126.6" fill="none" stroke="#888" stroke-width="0.5"/>
<line x1="513" y1="120" x2="530" y2="120" stroke="#555" stroke-width="0.5"/>
<line x1="526" y1="118" x2="530" y2="120" stroke="#555" stroke-width="0.5"/>
<line x1="526" y1="122" x2="530" y2="120" stroke="#555" stroke-width="0.5"/>
<text x="531" y="120" font-size="3.74" fill="#1a1a1a" text-anchor="middle" textLength="13.5" lengthAdjust="spacingAndGlyphs" transform="rotate(-90 531 120)" stroke="#1a1a1a" stroke-width="0.12">min. 350</text>
<line x1="315" y1="160" x2="436" y2="160" stroke="#111" stroke-width="2.2"/>
<line x1="436" y1="126.6" x2="436" y2="161" stroke="#111" stroke-width="2.2"/>
<line x1="436" y1="126.6" x2="451.7" y2="126.6" stroke="#111" stroke-width="2.2"/>
<line x1="451.7" y1="126.6" x2="451.7" y2="222" stroke="#111" stroke-width="2.2"/>
<rect x="468.4" y="126.6" width="35.1" height="27.6" fill="none" stroke="#111" stroke-width="2.0"/>
<line x1="405" y1="160" x2="405" y2="222" stroke="#111" stroke-width="2.0"/>
<line x1="391" y1="193" x2="451.7" y2="193" stroke="#111" stroke-width="2.0"/>
<line x1="391" y1="222" x2="451.7" y2="222" stroke="#111" stroke-width="2.0"/>
<rect x="440" y="130" width="6" height="5" fill="#777" stroke="#333" stroke-width="0.8"/>
<text x="444" y="146" font-size="3.74" fill="#1a1a1a" text-anchor="middle" textLength="11" lengthAdjust="spacingAndGlyphs" stroke="#1a1a1a" stroke-width="0.12">ÚKLID</text>
<text x="486" y="142" font-size="3.74" fill="#1a1a1a" text-anchor="middle" textLength="20" lengthAdjust="spacingAndGlyphs" stroke="#1a1a1a" stroke-width="0.12">SKL. OBALŮ</text>
<text x="486" y="148" font-size="3.74" fill="#1a1a1a" text-anchor="middle" textLength="12" lengthAdjust="spacingAndGlyphs" stroke="#1a1a1a" stroke-width="0.12">4,00 m²</text>
<path d="M451.7,140 L463.7,140.0 A12,12 0 0 1 451.7,152.0" fill="none" stroke="#777" stroke-width="0.5"/>
<path d="M468.4,151 L468.4,141.0 A10,10 0 0 0 458.4,151.0" fill="none" stroke="#777" stroke-width="0.5"/>
<text x="423.5" y="175.3" font-size="3.74" fill="#1a1a1a" text-anchor="middle" textLength="28" lengthAdjust="spacingAndGlyphs" stroke="#1a1a1a" stroke-width="0.12">SKL. BAL. POTŘ.</text>
<text x="423.5" y="182.3" font-size="3.74" fill="#1a1a1a" text-anchor="middle" textLength="12" lengthAdjust="spacingAndGlyphs" stroke="#1a1a1a" stroke-width="0.12">6,43 m²</text>
<text x="459" y="179.5" font-size="3.74" fill="#1a1a1a" text-anchor="middle" textLength="14" lengthAdjust="spacingAndGlyphs" stroke="#1a1a1a" stroke-width="0.12">CHODBA</text>
<text x="459" y="186" font-size="3.74" fill="#1a1a1a" text-anchor="middle" textLength="12" lengthAdjust="spacingAndGlyphs" stroke="#1a1a1a" stroke-width="0.12">7,80 m²</text>
<text x="421" y="199" font-size="3.74" fill="#1a1a1a" text-anchor="middle" textLength="11" lengthAdjust="spacingAndGlyphs" stroke="#1a1a1a" stroke-width="0.12">ŠATNA</text>
<text x="421" y="204.7" font-size="3.74" fill="#1a1a1a" text-anchor="middle" textLength="15" lengthAdjust="spacingAndGlyphs" stroke="#1a1a1a" stroke-width="0.12">ZAMĚST.</text>
<text x="421" y="211" font-size="3.74" fill="#1a1a1a" text-anchor="middle" textLength="12" lengthAdjust="spacingAndGlyphs" stroke="#1a1a1a" stroke-width="0.12">5,75 m²</text>
<text x="399.8" y="174" font-size="3.74" fill="#1a1a1a" text-anchor="middle" textLength="6" lengthAdjust="spacingAndGlyphs" stroke="#1a1a1a" stroke-width="0.12">WC</text>
<text x="399.8" y="181.5" font-size="3.74" fill="#1a1a1a" text-anchor="middle" textLength="8" lengthAdjust="spacingAndGlyphs" stroke="#1a1a1a" stroke-width="0.12">ZAM.</text>
<text x="399.8" y="200.5" font-size="3.74" fill="#1a1a1a" text-anchor="middle" textLength="5" lengthAdjust="spacingAndGlyphs" stroke="#1a1a1a" stroke-width="0.12">PŘ.</text>
<text x="399.8" y="207.5" font-size="3.74" fill="#1a1a1a" text-anchor="middle" textLength="6" lengthAdjust="spacingAndGlyphs" stroke="#1a1a1a" stroke-width="0.12">WC</text>
<rect x="408" y="214" width="41" height="7" fill="none" stroke="#777" stroke-width="0.6"/>
<line x1="413.85714285714283" y1="214" x2="413.85714285714283" y2="221" stroke="#777" stroke-width="0.5"/>
<line x1="419.7142857142857" y1="214" x2="419.7142857142857" y2="221" stroke="#777" stroke-width="0.5"/>
<line x1="425.57142857142856" y1="214" x2="425.57142857142856" y2="221" stroke="#777" stroke-width="0.5"/>
<line x1="431.42857142857144" y1="214" x2="431.42857142857144" y2="221" stroke="#777" stroke-width="0.5"/>
<line x1="437.2857142857143" y1="214" x2="437.2857142857143" y2="221" stroke="#777" stroke-width="0.5"/>
<line x1="443.14285714285717" y1="214" x2="443.14285714285717" y2="221" stroke="#777" stroke-width="0.5"/>
<rect x="410" y="165" width="36" height="20" fill="none" stroke="#888" stroke-width="0.5"/>
<path d="M451.7,175 L442.7,175.0 A9,9 0 0 0 451.7,184.0" fill="none" stroke="#777" stroke-width="0.5"/>
<path d="M405,205 L414.0,205.0 A9,9 0 0 0 405.0,196.0" fill="none" stroke="#777" stroke-width="0.5"/>
<path d="M467.5,214 L457.5,214.0 A10,10 0 0 1 467.5,204.0" fill="none" stroke="#777" stroke-width="0.5"/>
<g transform="translate(398,165) rotate(0)"><rect x="-3" y="-5" width="6" height="2.5" fill="none" stroke="#999" stroke-width="0.5"/><ellipse cx="0" cy="0.8" rx="2.6" ry="3.3" fill="none" stroke="#999" stroke-width="0.5"/></g>
<g transform="translate(398,215) rotate(180)"><rect x="-3" y="-5" width="6" height="2.5" fill="none" stroke="#999" stroke-width="0.5"/><ellipse cx="0" cy="0.8" rx="2.6" ry="3.3" fill="none" stroke="#999" stroke-width="0.5"/></g>
<rect x="552.6" y="72.3" width="9.1" height="18.1" fill="none" stroke="#6a6a6a" stroke-width="0.7"/>
<line x1="552.6" y1="81.35" x2="561.7" y2="81.35" stroke="#6a6a6a" stroke-width="0.6"/>
<rect x="553.4" y="73.1" width="7.5" height="16.5" fill="none" stroke="#aaa" stroke-width="0.4"/>
<g transform="translate(545.0,76.6) rotate(-90)" fill="none" stroke="#6a6a6a" stroke-width="0.6"><path d="M-3.6,3.24 L-3.6,0 A3.6,3.6 0 0 1 3.6,0 L3.6,3.24 Z"/><path d="M-2.4000000000000004,3.24 L-2.4000000000000004,0.3 A2.4000000000000004,2.4000000000000004 0 0 1 2.4000000000000004,0.3 L2.4000000000000004,3.24" stroke="#999" stroke-width="0.45"/></g>
<g transform="translate(545.0,86.3) rotate(-90)" fill="none" stroke="#6a6a6a" stroke-width="0.6"><path d="M-3.6,3.24 L-3.6,0 A3.6,3.6 0 0 1 3.6,0 L3.6,3.24 Z"/><path d="M-2.4000000000000004,3.24 L-2.4000000000000004,0.3 A2.4000000000000004,2.4000000000000004 0 0 1 2.4000000000000004,0.3 L2.4000000000000004,3.24" stroke="#999" stroke-width="0.45"/></g>
<g transform="translate(568.7,76.6) rotate(90)" fill="none" stroke="#6a6a6a" stroke-width="0.6"><path d="M-3.6,3.24 L-3.6,0 A3.6,3.6 0 0 1 3.6,0 L3.6,3.24 Z"/><path d="M-2.4000000000000004,3.24 L-2.4000000000000004,0.3 A2.4000000000000004,2.4000000000000004 0 0 1 2.4000000000000004,0.3 L2.4000000000000004,3.24" stroke="#999" stroke-width="0.45"/></g>
<g transform="translate(568.7,86.3) rotate(90)" fill="none" stroke="#6a6a6a" stroke-width="0.6"><path d="M-3.6,3.24 L-3.6,0 A3.6,3.6 0 0 1 3.6,0 L3.6,3.24 Z"/><path d="M-2.4000000000000004,3.24 L-2.4000000000000004,0.3 A2.4000000000000004,2.4000000000000004 0 0 1 2.4000000000000004,0.3 L2.4000000000000004,3.24" stroke="#999" stroke-width="0.45"/></g>
<rect x="592.9" y="72.3" width="9.1" height="18.1" fill="none" stroke="#6a6a6a" stroke-width="0.7"/>
<line x1="592.9" y1="81.35" x2="602.0" y2="81.35" stroke="#6a6a6a" stroke-width="0.6"/>
<rect x="593.6999999999999" y="73.1" width="7.5" height="16.5" fill="none" stroke="#aaa" stroke-width="0.4"/>
<g transform="translate(585.3,76.6) rotate(-90)" fill="none" stroke="#6a6a6a" stroke-width="0.6"><path d="M-3.6,3.24 L-3.6,0 A3.6,3.6 0 0 1 3.6,0 L3.6,3.24 Z"/><path d="M-2.4000000000000004,3.24 L-2.4000000000000004,0.3 A2.4000000000000004,2.4000000000000004 0 0 1 2.4000000000000004,0.3 L2.4000000000000004,3.24" stroke="#999" stroke-width="0.45"/></g>
<g transform="translate(585.3,86.3) rotate(-90)" fill="none" stroke="#6a6a6a" stroke-width="0.6"><path d="M-3.6,3.24 L-3.6,0 A3.6,3.6 0 0 1 3.6,0 L3.6,3.24 Z"/><path d="M-2.4000000000000004,3.24 L-2.4000000000000004,0.3 A2.4000000000000004,2.4000000000000004 0 0 1 2.4000000000000004,0.3 L2.4000000000000004,3.24" stroke="#999" stroke-width="0.45"/></g>
<g transform="translate(609.0,76.6) rotate(90)" fill="none" stroke="#6a6a6a" stroke-width="0.6"><path d="M-3.6,3.24 L-3.6,0 A3.6,3.6 0 0 1 3.6,0 L3.6,3.24 Z"/><path d="M-2.4000000000000004,3.24 L-2.4000000000000004,0.3 A2.4000000000000004,2.4000000000000004 0 0 1 2.4000000000000004,0.3 L2.4000000000000004,3.24" stroke="#999" stroke-width="0.45"/></g>
<g transform="translate(609.0,86.3) rotate(90)" fill="none" stroke="#6a6a6a" stroke-width="0.6"><path d="M-3.6,3.24 L-3.6,0 A3.6,3.6 0 0 1 3.6,0 L3.6,3.24 Z"/><path d="M-2.4000000000000004,3.24 L-2.4000000000000004,0.3 A2.4000000000000004,2.4000000000000004 0 0 1 2.4000000000000004,0.3 L2.4000000000000004,3.24" stroke="#999" stroke-width="0.45"/></g>
<rect x="552.6" y="118.9" width="9.1" height="26.6" fill="none" stroke="#6a6a6a" stroke-width="0.7"/>
<line x1="552.6" y1="127.76666666666668" x2="561.7" y2="127.76666666666668" stroke="#6a6a6a" stroke-width="0.6"/>
<line x1="552.6" y1="136.63333333333333" x2="561.7" y2="136.63333333333333" stroke="#6a6a6a" stroke-width="0.6"/>
<rect x="553.4" y="119.7" width="7.5" height="25.0" fill="none" stroke="#aaa" stroke-width="0.4"/>
<g transform="translate(545.0,122.4) rotate(-90)" fill="none" stroke="#6a6a6a" stroke-width="0.6"><path d="M-3.6,3.24 L-3.6,0 A3.6,3.6 0 0 1 3.6,0 L3.6,3.24 Z"/><path d="M-2.4000000000000004,3.24 L-2.4000000000000004,0.3 A2.4000000000000004,2.4000000000000004 0 0 1 2.4000000000000004,0.3 L2.4000000000000004,3.24" stroke="#999" stroke-width="0.45"/></g>
<g transform="translate(568.7,122.4) rotate(90)" fill="none" stroke="#6a6a6a" stroke-width="0.6"><path d="M-3.6,3.24 L-3.6,0 A3.6,3.6 0 0 1 3.6,0 L3.6,3.24 Z"/><path d="M-2.4000000000000004,3.24 L-2.4000000000000004,0.3 A2.4000000000000004,2.4000000000000004 0 0 1 2.4000000000000004,0.3 L2.4000000000000004,3.24" stroke="#999" stroke-width="0.45"/></g>
<g transform="translate(545.0,131.4) rotate(-90)" fill="none" stroke="#6a6a6a" stroke-width="0.6"><path d="M-3.6,3.24 L-3.6,0 A3.6,3.6 0 0 1 3.6,0 L3.6,3.24 Z"/><path d="M-2.4000000000000004,3.24 L-2.4000000000000004,0.3 A2.4000000000000004,2.4000000000000004 0 0 1 2.4000000000000004,0.3 L2.4000000000000004,3.24" stroke="#999" stroke-width="0.45"/></g>
<g transform="translate(568.7,131.4) rotate(90)" fill="none" stroke="#6a6a6a" stroke-width="0.6"><path d="M-3.6,3.24 L-3.6,0 A3.6,3.6 0 0 1 3.6,0 L3.6,3.24 Z"/><path d="M-2.4000000000000004,3.24 L-2.4000000000000004,0.3 A2.4000000000000004,2.4000000000000004 0 0 1 2.4000000000000004,0.3 L2.4000000000000004,3.24" stroke="#999" stroke-width="0.45"/></g>
<g transform="translate(545.0,140.9) rotate(-90)" fill="none" stroke="#6a6a6a" stroke-width="0.6"><path d="M-3.6,3.24 L-3.6,0 A3.6,3.6 0 0 1 3.6,0 L3.6,3.24 Z"/><path d="M-2.4000000000000004,3.24 L-2.4000000000000004,0.3 A2.4000000000000004,2.4000000000000004 0 0 1 2.4000000000000004,0.3 L2.4000000000000004,3.24" stroke="#999" stroke-width="0.45"/></g>
<g transform="translate(568.7,140.9) rotate(90)" fill="none" stroke="#6a6a6a" stroke-width="0.6"><path d="M-3.6,3.24 L-3.6,0 A3.6,3.6 0 0 1 3.6,0 L3.6,3.24 Z"/><path d="M-2.4000000000000004,3.24 L-2.4000000000000004,0.3 A2.4000000000000004,2.4000000000000004 0 0 1 2.4000000000000004,0.3 L2.4000000000000004,3.24" stroke="#999" stroke-width="0.45"/></g>
<rect x="592.9" y="118.9" width="9.1" height="26.6" fill="none" stroke="#6a6a6a" stroke-width="0.7"/>
<line x1="592.9" y1="127.76666666666668" x2="602.0" y2="127.76666666666668" stroke="#6a6a6a" stroke-width="0.6"/>
<line x1="592.9" y1="136.63333333333333" x2="602.0" y2="136.63333333333333" stroke="#6a6a6a" stroke-width="0.6"/>
<rect x="593.6999999999999" y="119.7" width="7.5" height="25.0" fill="none" stroke="#aaa" stroke-width="0.4"/>
<g transform="translate(585.3,122.4) rotate(-90)" fill="none" stroke="#6a6a6a" stroke-width="0.6"><path d="M-3.6,3.24 L-3.6,0 A3.6,3.6 0 0 1 3.6,0 L3.6,3.24 Z"/><path d="M-2.4000000000000004,3.24 L-2.4000000000000004,0.3 A2.4000000000000004,2.4000000000000004 0 0 1 2.4000000000000004,0.3 L2.4000000000000004,3.24" stroke="#999" stroke-width="0.45"/></g>
<g transform="translate(609.0,122.4) rotate(90)" fill="none" stroke="#6a6a6a" stroke-width="0.6"><path d="M-3.6,3.24 L-3.6,0 A3.6,3.6 0 0 1 3.6,0 L3.6,3.24 Z"/><path d="M-2.4000000000000004,3.24 L-2.4000000000000004,0.3 A2.4000000000000004,2.4000000000000004 0 0 1 2.4000000000000004,0.3 L2.4000000000000004,3.24" stroke="#999" stroke-width="0.45"/></g>
<g transform="translate(585.3,131.4) rotate(-90)" fill="none" stroke="#6a6a6a" stroke-width="0.6"><path d="M-3.6,3.24 L-3.6,0 A3.6,3.6 0 0 1 3.6,0 L3.6,3.24 Z"/><path d="M-2.4000000000000004,3.24 L-2.4000000000000004,0.3 A2.4000000000000004,2.4000000000000004 0 0 1 2.4000000000000004,0.3 L2.4000000000000004,3.24" stroke="#999" stroke-width="0.45"/></g>
<g transform="translate(609.0,131.4) rotate(90)" fill="none" stroke="#6a6a6a" stroke-width="0.6"><path d="M-3.6,3.24 L-3.6,0 A3.6,3.6 0 0 1 3.6,0 L3.6,3.24 Z"/><path d="M-2.4000000000000004,3.24 L-2.4000000000000004,0.3 A2.4000000000000004,2.4000000000000004 0 0 1 2.4000000000000004,0.3 L2.4000000000000004,3.24" stroke="#999" stroke-width="0.45"/></g>
<g transform="translate(585.3,140.9) rotate(-90)" fill="none" stroke="#6a6a6a" stroke-width="0.6"><path d="M-3.6,3.24 L-3.6,0 A3.6,3.6 0 0 1 3.6,0 L3.6,3.24 Z"/><path d="M-2.4000000000000004,3.24 L-2.4000000000000004,0.3 A2.4000000000000004,2.4000000000000004 0 0 1 2.4000000000000004,0.3 L2.4000000000000004,3.24" stroke="#999" stroke-width="0.45"/></g>
<g transform="translate(609.0,140.9) rotate(90)" fill="none" stroke="#6a6a6a" stroke-width="0.6"><path d="M-3.6,3.24 L-3.6,0 A3.6,3.6 0 0 1 3.6,0 L3.6,3.24 Z"/><path d="M-2.4000000000000004,3.24 L-2.4000000000000004,0.3 A2.4000000000000004,2.4000000000000004 0 0 1 2.4000000000000004,0.3 L2.4000000000000004,3.24" stroke="#999" stroke-width="0.45"/></g>
<text x="541.8" y="97.5" font-size="3.74" fill="#1a1a1a" text-anchor="middle" textLength="28" lengthAdjust="spacingAndGlyphs" stroke="#1a1a1a" stroke-width="0.12">OBČERSTVENÍ</text>
<text x="541.5" y="104" font-size="3.74" fill="#1a1a1a" text-anchor="middle" textLength="32" lengthAdjust="spacingAndGlyphs" stroke="#1a1a1a" stroke-width="0.12">U VSTUPNÍ HALY</text>
<text x="543" y="109.8" font-size="3.74" fill="#1a1a1a" text-anchor="middle" textLength="48" lengthAdjust="spacingAndGlyphs" stroke="#1a1a1a" stroke-width="0.12">(SEZENÍ PRO MAX. 35 OS.)</text>
<line x1="512.6" y1="65" x2="512.6" y2="131.3" stroke="#6e6e6e" stroke-width="0.7"/>
<line x1="515" y1="65" x2="515" y2="131.3" stroke="#999" stroke-width="0.6"/>
<rect x="507.9" y="137" width="29.4" height="21" fill="none" stroke="#777" stroke-width="0.6"/>
<line x1="507.9" y1="137" x2="537.3" y2="158" stroke="#777" stroke-width="0.5"/>
<line x1="507.9" y1="158" x2="537.3" y2="137" stroke="#777" stroke-width="0.5"/>
<line x1="455.5" y1="0" x2="455.5" y2="65" stroke="#6e6e6e" stroke-width="0.7"/>
<text x="383" y="56.2" font-size="3.96" fill="#1a1a1a" text-anchor="middle" textLength="58" lengthAdjust="spacingAndGlyphs" stroke="#1a1a1a" stroke-width="0.12">NOVÉ PROTIPOŽ. PROSKLENÍ</text>
<text x="556" y="56.2" font-size="3.96" fill="#1a1a1a" text-anchor="middle" textLength="58" lengthAdjust="spacingAndGlyphs" stroke="#1a1a1a" stroke-width="0.12">NOVÉ PROTIPOŽ. PROSKLENÍ</text>
<line x1="634" y1="0" x2="634" y2="19" stroke="#6e6e6e" stroke-width="0.7"/>
<line x1="634" y1="19" x2="595" y2="57.5" stroke="#6e6e6e" stroke-width="0.6"/>
<line x1="634" y1="19" x2="674" y2="59" stroke="#6e6e6e" stroke-width="0.6"/>
<rect x="654" y="0" width="21" height="31" fill="none" stroke="#777" stroke-width="0.7"/>
<line x1="654" y1="4.2" x2="675" y2="4.2" stroke="#888" stroke-width="0.6"/>
<line x1="654" y1="8.4" x2="675" y2="8.4" stroke="#888" stroke-width="0.6"/>
<line x1="654" y1="12.600000000000001" x2="675" y2="12.600000000000001" stroke="#888" stroke-width="0.6"/>
<line x1="654" y1="16.8" x2="675" y2="16.8" stroke="#888" stroke-width="0.6"/>
<line x1="654" y1="21.0" x2="675" y2="21.0" stroke="#888" stroke-width="0.6"/>
<line x1="654" y1="25.200000000000003" x2="675" y2="25.200000000000003" stroke="#888" stroke-width="0.6"/>
<line x1="654" y1="9" x2="675" y2="15" stroke="#777" stroke-width="0.6"/>
<line x1="675" y1="3.5" x2="701" y2="3.5" stroke="#6e6e6e" stroke-width="0.7"/>
<line x1="701" y1="0" x2="701" y2="44" stroke="#6e6e6e" stroke-width="0.8"/>
<line x1="704" y1="0" x2="704" y2="44" stroke="#6e6e6e" stroke-width="0.8"/>
<rect x="675.5" y="44" width="33.5" height="26" fill="#fff" stroke="#777" stroke-width="0.8"/>
<rect x="679" y="46" width="28" height="21" fill="none" stroke="#777" stroke-width="0.6"/>
<polygon points="681,47 703,49.5 705,62 682,60" fill="none" stroke="#555" stroke-width="0.9"/>
<line x1="600" y1="65" x2="710" y2="65" stroke="#888" stroke-width="0.8"/>
<line x1="600" y1="67.5" x2="710" y2="67.5" stroke="#999" stroke-width="0.8"/>
<rect x="468.7" y="153.7" width="35.9" height="68.5" fill="#fff" stroke="#777" stroke-width="0.8"/>
<rect x="470.4" y="155.4" width="32.5" height="65.1" fill="none" stroke="#999" stroke-width="0.6"/>
<line x1="468.7" y1="188" x2="504.6" y2="188" stroke="#6e6e6e" stroke-width="0.6"/>
<line x1="468.7" y1="193.1" x2="504.6" y2="193.1" stroke="#6e6e6e" stroke-width="0.6"/>
<rect x="469" y="188" width="4" height="5.1" fill="none" stroke="#999" stroke-width="0.5"/>
<polyline points="472,158 501.5,160.5 503,186" fill="none" stroke="#666" stroke-width="0.7"/>
<polyline points="472,195.5 501.5,198 503,219" fill="none" stroke="#666" stroke-width="0.7"/>
<rect x="505.2" y="182.4" width="2.9" height="35.3" fill="none" stroke="#999" stroke-width="0.6"/>
<text x="511.5" y="200" font-size="3.74" fill="#1a1a1a" text-anchor="middle" textLength="16" lengthAdjust="spacingAndGlyphs" transform="rotate(-90 511.5 200)" stroke="#1a1a1a" stroke-width="0.12">TRIZORY</text>
<text x="466.5" y="244.5" font-size="3.96" fill="#1a1a1a" text-anchor="middle" textLength="22.5" lengthAdjust="spacingAndGlyphs" stroke="#1a1a1a" stroke-width="0.12">ŠPIN. ZÓNA</text>
<line x1="442.5" y1="222" x2="442.5" y2="252" stroke="#999" stroke-width="0.6"/>
<path d="M443,232 L447.5,224.2 A9,9 0 0 1 452.0,232.0" fill="none" stroke="#999" stroke-width="0.5"/>
<path d="M443,242 L447.5,249.8 A9,9 0 0 0 452.0,242.0" fill="none" stroke="#999" stroke-width="0.5"/>
<line x1="515" y1="97.9" x2="710" y2="97.9" stroke="#a09f95" stroke-width="0.7" stroke-dasharray="3.5 2"/>
<line x1="515" y1="111.2" x2="710" y2="111.2" stroke="#a09f95" stroke-width="0.7" stroke-dasharray="3.5 2"/>
<line x1="505" y1="183.8" x2="710" y2="183.8" stroke="#a09f95" stroke-width="0.7" stroke-dasharray="3.5 2"/>
<line x1="505" y1="197.2" x2="710" y2="197.2" stroke="#a09f95" stroke-width="0.7" stroke-dasharray="3.5 2"/>
<line x1="567.8" y1="71" x2="567.8" y2="252" stroke="#a09f95" stroke-width="0.7" stroke-dasharray="3.5 2"/>
<line x1="580.6" y1="71" x2="580.6" y2="300" stroke="#a09f95" stroke-width="0.7" stroke-dasharray="3.5 2"/>
<line x1="671.2" y1="71" x2="671.2" y2="270" stroke="#a09f95" stroke-width="0.7" stroke-dasharray="3.5 2"/>
<line x1="684" y1="71" x2="684" y2="270" stroke="#a09f95" stroke-width="0.7" stroke-dasharray="3.5 2"/>
<line x1="684" y1="269.6" x2="712" y2="269.6" stroke="#a09f95" stroke-width="0.7" stroke-dasharray="3.5 2"/>
<rect x="569.05" y="98.95" width="10.5" height="10.5" fill="#fff" stroke="#777" stroke-width="0.8"/>
<rect x="570.55" y="100.45" width="7.5" height="7.5" fill="#f3f1ea" stroke="#888" stroke-width="0.5"/>
<rect x="572.0" y="101.9" width="4.6" height="4.6" fill="#fff" stroke="#888" stroke-width="0.5"/>
<rect x="672.25" y="99.25" width="10.5" height="10.5" fill="#fff" stroke="#777" stroke-width="0.8"/>
<rect x="673.75" y="100.75" width="7.5" height="7.5" fill="#f3f1ea" stroke="#888" stroke-width="0.5"/>
<rect x="675.2" y="102.2" width="4.6" height="4.6" fill="#fff" stroke="#888" stroke-width="0.5"/>
<rect x="568.75" y="184.75" width="10.5" height="10.5" fill="#fff" stroke="#777" stroke-width="0.8"/>
<rect x="570.25" y="186.25" width="7.5" height="7.5" fill="#f3f1ea" stroke="#888" stroke-width="0.5"/>
<rect x="571.7" y="187.7" width="4.6" height="4.6" fill="#fff" stroke="#888" stroke-width="0.5"/>
<rect x="671.75" y="184.75" width="10.5" height="10.5" fill="#fff" stroke="#777" stroke-width="0.8"/>
<rect x="673.25" y="186.25" width="7.5" height="7.5" fill="#f3f1ea" stroke="#888" stroke-width="0.5"/>
<rect x="674.7" y="187.7" width="4.6" height="4.6" fill="#fff" stroke="#888" stroke-width="0.5"/>
<rect x="568.75" y="270.75" width="10.5" height="10.5" fill="#fff" stroke="#777" stroke-width="0.8"/>
<rect x="570.25" y="272.25" width="7.5" height="7.5" fill="#f3f1ea" stroke="#888" stroke-width="0.5"/>
<rect x="571.7" y="273.7" width="4.6" height="4.6" fill="#fff" stroke="#888" stroke-width="0.5"/>
<rect x="672.05" y="270.75" width="10.5" height="10.5" fill="#fff" stroke="#777" stroke-width="0.8"/>
<rect x="673.55" y="272.25" width="7.5" height="7.5" fill="#f3f1ea" stroke="#888" stroke-width="0.5"/>
<rect x="675.0" y="273.7" width="4.6" height="4.6" fill="#fff" stroke="#888" stroke-width="0.5"/>
<circle cx="626" cy="195.5" r="28.6" fill="none" stroke="#777" stroke-width="0.7"/>
<circle cx="626" cy="195.5" r="22.5" fill="none" stroke="#777" stroke-width="0.7"/>
<rect x="611.5" y="221.5" width="28.5" height="3" fill="#fef8e6"/>
<path d="M611.5,215 L611.5,223.5 L640,223.5 L640,215" fill="none" stroke="#777" stroke-width="0.6"/>
<rect x="611.3" y="222.5" width="28.7" height="21.7" fill="none" stroke="#666" stroke-width="0.6" stroke-dasharray="2 1.2"/>
<line x1="611.3" y1="222.5" x2="640" y2="244.2" stroke="#6e6e6e" stroke-width="0.5"/>
<line x1="611.3" y1="244.2" x2="640" y2="222.5" stroke="#6e6e6e" stroke-width="0.5"/>
<text x="626" y="187" font-size="3.74" fill="#1a1a1a" text-anchor="middle" textLength="16" lengthAdjust="spacingAndGlyphs" stroke="#1a1a1a" stroke-width="0.12">POSUVNÝ</text>
<text x="626" y="192.5" font-size="3.74" fill="#1a1a1a" text-anchor="middle" textLength="15" lengthAdjust="spacingAndGlyphs" stroke="#1a1a1a" stroke-width="0.12">SKLOPNÝ</text>
<text x="626" y="198" font-size="3.74" fill="#1a1a1a" text-anchor="middle" textLength="9" lengthAdjust="spacingAndGlyphs" stroke="#1a1a1a" stroke-width="0.12">PULT</text>
<text x="626" y="208" font-size="3.96" fill="#c7c2b5" text-anchor="middle" textLength="14" lengthAdjust="spacingAndGlyphs" stroke="#c7c2b5" stroke-width="0.12">PRODEJ</text>
<text x="626" y="214.5" font-size="3.96" fill="#c7c2b5" text-anchor="middle" textLength="22" lengthAdjust="spacingAndGlyphs" stroke="#c7c2b5" stroke-width="0.12">VSTUP. ČIPŮ</text>
<rect x="588" y="159" width="19.5" height="5.4" fill="none" stroke="#444" stroke-width="0.6"/>
<text x="597.7" y="163.3" font-size="3.96" fill="#1a1a1a" text-anchor="middle" textLength="13" lengthAdjust="spacingAndGlyphs" stroke="#1a1a1a" stroke-width="0.12">±0,000</text>
<line x1="710.5" y1="111" x2="710.5" y2="132.5" stroke="#111" stroke-width="2.6"/>
<rect x="508.7" y="222.8" width="28.1" height="21.6" fill="none" stroke="#777" stroke-width="0.6" stroke-dasharray="2 1.2"/>
<line x1="508.7" y1="222.8" x2="536.8" y2="244.4" stroke="#777" stroke-width="0.5"/>
<line x1="508.7" y1="244.4" x2="536.8" y2="222.8" stroke="#777" stroke-width="0.5"/>
<polygon points="520.5,245.5 530,245.5 525.2,250.5" fill="#111"/>
<rect x="673" y="149" width="14" height="3" fill="none" stroke="#bbb" stroke-width="0.5"/>
<rect x="673" y="170" width="14" height="3" fill="none" stroke="#bbb" stroke-width="0.5"/>
<path d="M674,152 L686,170 M686,152 L674,170" fill="none" stroke="#c0c0c0" stroke-width="0.5"/>
<line x1="696.8" y1="155" x2="696.8" y2="172" stroke="#555" stroke-width="0.6"/>
<line x1="693" y1="155" x2="700" y2="155" stroke="#555" stroke-width="0.5"/>
<line x1="693" y1="172" x2="700" y2="172" stroke="#555" stroke-width="0.5"/>
<text x="703.5" y="164" font-size="3.96" fill="#1a1a1a" text-anchor="middle" textLength="18" lengthAdjust="spacingAndGlyphs" transform="rotate(-90 703.5 164)" stroke="#1a1a1a" stroke-width="0.12">min. 1100</text>
<text x="693" y="178.5" font-size="3.96" fill="#c7c2b5" text-anchor="middle" textLength="19" lengthAdjust="spacingAndGlyphs" stroke="#c7c2b5" stroke-width="0.12">TURNIKET</text>
<path d="M615.5,68 L615.5,80.0 A12,12 0 0 0 627.5,68.0" fill="none" stroke="#777" stroke-width="0.55"/>
<path d="M637,68 L637.0,74.0 A6,6 0 0 1 631.0,68.0" fill="none" stroke="#777" stroke-width="0.5"/>
<path d="M651.5,68 L651.5,80.0 A12,12 0 0 0 663.5,68.0" fill="none" stroke="#777" stroke-width="0.55"/>
<path d="M673,68 L673.0,74.0 A6,6 0 0 1 667.0,68.0" fill="none" stroke="#777" stroke-width="0.5"/>
<path d="M710,200 L710.0,190.0 A10,10 0 0 0 700.0,200.0" fill="none" stroke="#777" stroke-width="0.5"/>
<path d="M710,230 L710.0,220.0 A10,10 0 0 0 700.0,230.0" fill="none" stroke="#777" stroke-width="0.5"/>
<path d="M710,250 L710.0,240.0 A10,10 0 0 0 700.0,250.0" fill="none" stroke="#777" stroke-width="0.5"/>
<path d="M710,269.5 L710.0,259.5 A10,10 0 0 0 700.0,269.5" fill="none" stroke="#777" stroke-width="0.5"/>
<line x1="579.2" y1="270.3" x2="671.4" y2="270.3" stroke="#888" stroke-width="0.7"/>
<line x1="579.2" y1="271.6" x2="671.4" y2="271.6" stroke="#aaa" stroke-width="0.5" stroke-dasharray="3 2"/>
<rect x="607.1" y="255.2" width="35.6" height="12.7" fill="none" stroke="#777" stroke-width="0.7"/>
<rect x="607.1" y="273" width="35.6" height="25.4" fill="none" stroke="#777" stroke-width="0.7"/>
<line x1="671.4" y1="270" x2="671.4" y2="300.5" stroke="#888" stroke-width="0.7"/>
<line x1="579" y1="300.5" x2="672" y2="300.5" stroke="#fff" stroke-width="2.8"/>
<line x1="579" y1="300.5" x2="672" y2="300.5" stroke="#000" stroke-width="1.7" stroke-dasharray="1.6 2.7"/>
<line x1="672" y1="307.8" x2="714" y2="307.8" stroke="#fff" stroke-width="2.8"/>
<line x1="672" y1="307.8" x2="714" y2="307.8" stroke="#000" stroke-width="1.7" stroke-dasharray="1.6 2.7"/>
<line x1="714" y1="59" x2="714" y2="308" stroke="#fff" stroke-width="2.8"/>
<line x1="714" y1="59" x2="714" y2="308" stroke="#000" stroke-width="1.7" stroke-dasharray="1.6 2.7"/>
<line x1="710" y1="59" x2="710" y2="367.5" stroke="#666" stroke-width="0.8"/>
<line x1="712.2" y1="67" x2="712.2" y2="367.5" stroke="#888" stroke-width="0.6"/>
<line x1="490" y1="306.8" x2="710" y2="306.8" stroke="#aaa" stroke-width="0.6" stroke-dasharray="4 2"/>
<line x1="490" y1="311.9" x2="710" y2="311.9" stroke="#aaa" stroke-width="0.6" stroke-dasharray="4 2"/>
<rect x="607.8" y="302.8" width="34.7" height="12.9" fill="none" stroke="#999" stroke-width="0.6"/>
<polygon points="620.5,324.5 630.5,324.5 625.5,319.5" fill="#111"/>
<text x="625.5" y="330.5" font-size="3.96" fill="#1a1a1a" text-anchor="middle" textLength="17" lengthAdjust="spacingAndGlyphs" stroke="#1a1a1a" stroke-width="0.12">HL. VSTUP</text>
<text x="625.5" y="336" font-size="3.96" fill="#1a1a1a" text-anchor="middle" textLength="23" lengthAdjust="spacingAndGlyphs" stroke="#1a1a1a" stroke-width="0.12">DO OBJEKTU</text>
<line x1="464.6" y1="251" x2="464.6" y2="308" stroke="#111" stroke-width="2.2"/>
<line x1="442" y1="251.5" x2="489.2" y2="251.5" stroke="#111" stroke-width="2.2"/>
<line x1="489.2" y1="251" x2="489.2" y2="308" stroke="#111" stroke-width="2.2"/>
<line x1="489.2" y1="252" x2="580" y2="252" stroke="#888" stroke-width="0.9"/>
<line x1="579.3" y1="252" x2="579.3" y2="308" stroke="#888" stroke-width="0.9"/>
<line x1="464" y1="308.5" x2="580" y2="308.5" stroke="#fff" stroke-width="2.8"/>
<line x1="464" y1="308.5" x2="580" y2="308.5" stroke="#000" stroke-width="1.7" stroke-dasharray="1.6 2.7"/>
<rect x="466.75" y="271.45" width="8.5" height="8.5" fill="#fff" stroke="#777" stroke-width="0.8"/>
<rect x="468.25" y="272.95" width="5.5" height="5.5" fill="#f3f1ea" stroke="#888" stroke-width="0.5"/>
<rect x="468.7" y="273.4" width="4.6" height="4.6" fill="#fff" stroke="#888" stroke-width="0.5"/>
<rect x="464.6" y="272.3" width="2.4" height="6.8" fill="#111"/>
<text x="477" y="266" font-size="3.30" fill="#1a1a1a" text-anchor="middle" stroke="#1a1a1a" stroke-width="0.12"></text>
<rect x="466" y="283.0" width="8" height="4.5" fill="none" stroke="#999" stroke-width="0.5"/>
<rect x="466" y="288.5" width="8" height="4.5" fill="none" stroke="#999" stroke-width="0.5"/>
<rect x="466" y="294.0" width="8" height="4.5" fill="none" stroke="#999" stroke-width="0.5"/>
<text x="479" y="291" font-size="3.96" fill="#1a1a1a" text-anchor="middle" textLength="12" lengthAdjust="spacingAndGlyphs" stroke="#1a1a1a" stroke-width="0.12">ŠATNA</text>
<text x="479" y="296.6" font-size="3.96" fill="#1a1a1a" text-anchor="middle" textLength="15" lengthAdjust="spacingAndGlyphs" stroke="#1a1a1a" stroke-width="0.12">ZAMĚST.</text>
<text x="479" y="302.6" font-size="3.96" fill="#1a1a1a" text-anchor="middle" textLength="12" lengthAdjust="spacingAndGlyphs" stroke="#1a1a1a" stroke-width="0.12">5,07 m²</text>
<text x="477" y="311" font-size="3.30" fill="#1a1a1a" text-anchor="middle" stroke="#1a1a1a" stroke-width="0.12"></text>
<rect x="506" y="263" width="8" height="40" fill="none" stroke="#999" stroke-width="0.6"/>
<rect x="517" y="278" width="12" height="30" fill="none" stroke="#999" stroke-width="0.6"/>
<rect x="519.5" y="281" width="7" height="25" fill="none" stroke="#bbb" stroke-width="0.5"/>
<line x1="517" y1="252" x2="517" y2="278" stroke="#999" stroke-width="0.6"/>
<path d="M517,252 L517.0,269.0 A17,17 0 0 0 534.0,252.0" fill="none" stroke="#777" stroke-width="0.5"/>
<text x="554" y="260.5" font-size="3.96" fill="#1a1a1a" text-anchor="middle" textLength="37" lengthAdjust="spacingAndGlyphs" stroke="#1a1a1a" stroke-width="0.12">KOUŘOTĚS. DVEŘE</text>
<text x="544.5" y="277.8" font-size="3.96" fill="#1a1a1a" text-anchor="middle" textLength="42" lengthAdjust="spacingAndGlyphs" stroke="#1a1a1a" stroke-width="0.12">OBCHODNÍ JEDNOTKA</text>
<text x="544.5" y="283.5" font-size="3.96" fill="#1a1a1a" text-anchor="middle" textLength="22" lengthAdjust="spacingAndGlyphs" stroke="#1a1a1a" stroke-width="0.12">S PRODEJEM</text>
<text x="550" y="290" font-size="3.96" fill="#1a1a1a" text-anchor="middle" textLength="33" lengthAdjust="spacingAndGlyphs" stroke="#1a1a1a" stroke-width="0.12">(CCA MAX. 25 m²)</text>
<rect x="569.0" y="271.5" width="10" height="10" fill="#fff" stroke="#777" stroke-width="0.8"/>
<rect x="570.5" y="273.0" width="7" height="7" fill="#f3f1ea" stroke="#888" stroke-width="0.5"/>
<rect x="571.7" y="274.2" width="4.6" height="4.6" fill="#fff" stroke="#888" stroke-width="0.5"/>
<rect x="712.3" y="-1" width="23.0" height="22.8" fill="none" stroke="#cfcfcf" stroke-width="0.6"/>
<line x1="716.1333333333333" y1="1" x2="716.1333333333333" y2="19.8" stroke="#cfcfcf" stroke-width="0.6"/>
<line x1="719.9666666666666" y1="1" x2="719.9666666666666" y2="19.8" stroke="#cfcfcf" stroke-width="0.6"/>
<line x1="723.8" y1="1" x2="723.8" y2="19.8" stroke="#cfcfcf" stroke-width="0.6"/>
<line x1="727.6333333333333" y1="1" x2="727.6333333333333" y2="19.8" stroke="#cfcfcf" stroke-width="0.6"/>
<line x1="731.4666666666666" y1="1" x2="731.4666666666666" y2="19.8" stroke="#cfcfcf" stroke-width="0.6"/>
<line x1="712.3" y1="1.5" x2="735.3" y2="1.5" stroke="#cfcfcf" stroke-width="0.5"/>
<line x1="712.3" y1="19.3" x2="735.3" y2="19.3" stroke="#cfcfcf" stroke-width="0.5"/>
<rect x="768.5" y="-1" width="38.299999999999955" height="24" fill="none" stroke="#cfcfcf" stroke-width="0.6"/>
<line x1="772.7555555555556" y1="1" x2="772.7555555555556" y2="21" stroke="#cfcfcf" stroke-width="0.6"/>
<line x1="777.0111111111111" y1="1" x2="777.0111111111111" y2="21" stroke="#cfcfcf" stroke-width="0.6"/>
<line x1="781.2666666666667" y1="1" x2="781.2666666666667" y2="21" stroke="#cfcfcf" stroke-width="0.6"/>
<line x1="785.5222222222222" y1="1" x2="785.5222222222222" y2="21" stroke="#cfcfcf" stroke-width="0.6"/>
<line x1="789.7777777777777" y1="1" x2="789.7777777777777" y2="21" stroke="#cfcfcf" stroke-width="0.6"/>
<line x1="794.0333333333333" y1="1" x2="794.0333333333333" y2="21" stroke="#cfcfcf" stroke-width="0.6"/>
<line x1="798.2888888888889" y1="1" x2="798.2888888888889" y2="21" stroke="#cfcfcf" stroke-width="0.6"/>
<line x1="802.5444444444444" y1="1" x2="802.5444444444444" y2="21" stroke="#cfcfcf" stroke-width="0.6"/>
<line x1="768.5" y1="1.5" x2="806.8" y2="1.5" stroke="#cfcfcf" stroke-width="0.5"/>
<line x1="768.5" y1="20.5" x2="806.8" y2="20.5" stroke="#cfcfcf" stroke-width="0.5"/>
<rect x="768.5" y="57.7" width="38.299999999999955" height="11.399999999999991" fill="none" stroke="#cfcfcf" stroke-width="0.6"/>
<line x1="772.7555555555556" y1="59.7" x2="772.7555555555556" y2="67.1" stroke="#cfcfcf" stroke-width="0.6"/>
<line x1="777.0111111111111" y1="59.7" x2="777.0111111111111" y2="67.1" stroke="#cfcfcf" stroke-width="0.6"/>
<line x1="781.2666666666667" y1="59.7" x2="781.2666666666667" y2="67.1" stroke="#cfcfcf" stroke-width="0.6"/>
<line x1="785.5222222222222" y1="59.7" x2="785.5222222222222" y2="67.1" stroke="#cfcfcf" stroke-width="0.6"/>
<line x1="789.7777777777777" y1="59.7" x2="789.7777777777777" y2="67.1" stroke="#cfcfcf" stroke-width="0.6"/>
<line x1="794.0333333333333" y1="59.7" x2="794.0333333333333" y2="67.1" stroke="#cfcfcf" stroke-width="0.6"/>
<line x1="798.2888888888889" y1="59.7" x2="798.2888888888889" y2="67.1" stroke="#cfcfcf" stroke-width="0.6"/>
<line x1="802.5444444444444" y1="59.7" x2="802.5444444444444" y2="67.1" stroke="#cfcfcf" stroke-width="0.6"/>
<line x1="768.5" y1="60.2" x2="806.8" y2="60.2" stroke="#cfcfcf" stroke-width="0.5"/>
<line x1="768.5" y1="66.6" x2="806.8" y2="66.6" stroke="#cfcfcf" stroke-width="0.5"/>
<rect x="811.7" y="22" width="4.8" height="36" fill="#eee" stroke="#cfcfcf" stroke-width="0.6"/>
<rect x="717" y="64" width="17" height="5" fill="#e6e6e6" stroke="#cfcfcf" stroke-width="0.6"/>
<line x1="808" y1="0" x2="808" y2="70.3" stroke="#6e6e6e" stroke-width="0.8"/>
<line x1="810.5" y1="0" x2="810.5" y2="70.3" stroke="#6e6e6e" stroke-width="0.8"/>
<line x1="712" y1="60.6" x2="849" y2="60.6" stroke="#aaa" stroke-width="0.6" stroke-dasharray="4 2"/>
<line x1="712" y1="70.3" x2="849" y2="70.3" stroke="#6e6e6e" stroke-width="0.8"/>
<line x1="712" y1="72.2" x2="849" y2="72.2" stroke="#999" stroke-width="0.8"/>
<line x1="741" y1="71.5" x2="749.5" y2="79.5" stroke="#6e6e6e" stroke-width="0.5"/>
<line x1="749.5" y1="79.5" x2="752.5" y2="72.5" stroke="#6e6e6e" stroke-width="0.5"/>
<path d="M763.5,72.2 L753.5,72.2 A10,10 0 0 0 763.5,82.2" fill="none" stroke="#6e6e6e" stroke-width="0.5"/>
<line x1="763.5" y1="72.2" x2="763.5" y2="82.5" stroke="#6e6e6e" stroke-width="0.5"/>
<path d="M835,72.2 L835.0,81.2 A9,9 0 0 0 841.9,78.0" fill="none" stroke="#6e6e6e" stroke-width="0.5"/>
<rect x="757" y="92" width="13" height="5" fill="#e6e6e6" stroke="#cfcfcf" stroke-width="0.6"/>
<rect x="714" y="100" width="12" height="5" fill="#e6e6e6" stroke="#cfcfcf" stroke-width="0.6"/>
<rect x="833" y="101" width="16" height="6" fill="#e6e6e6" stroke="#cfcfcf" stroke-width="0.6"/>
<line x1="712" y1="105.5" x2="757" y2="105.5" stroke="#6e6e6e" stroke-width="0.8"/>
<line x1="712" y1="107" x2="757" y2="107" stroke="#999" stroke-width="0.8"/>
<line x1="757" y1="105.5" x2="757" y2="134.5" stroke="#6e6e6e" stroke-width="0.8"/>
<line x1="758.5" y1="107" x2="758.5" y2="134.5" stroke="#999" stroke-width="0.8"/>
<path d="M757,115 L748.0,115.0 A9,9 0 0 0 757.0,124.0" fill="none" stroke="#6e6e6e" stroke-width="0.5"/>
<rect x="792.3" y="121.2" width="47.2" height="13.3" fill="none" stroke="#888" stroke-width="0.6" stroke-dasharray="3 1.5"/>
<line x1="736" y1="134.5" x2="848" y2="134.5" stroke="#6e6e6e" stroke-width="0.8"/>
<line x1="736" y1="136.3" x2="803" y2="136.3" stroke="#999" stroke-width="0.8"/>
<line x1="736" y1="134.5" x2="736" y2="190.3" stroke="#888" stroke-width="0.8"/>
<line x1="803.2" y1="134.5" x2="803.2" y2="252.5" stroke="#6e6e6e" stroke-width="0.8"/>
<line x1="805" y1="136" x2="805" y2="252.5" stroke="#999" stroke-width="0.8"/>
<line x1="740.2" y1="136.5" x2="740.2" y2="157.6" stroke="#777" stroke-width="0.6"/>
<line x1="740.2" y1="166" x2="740.2" y2="187.4" stroke="#777" stroke-width="0.6"/>
<line x1="743.75" y1="136.5" x2="743.75" y2="157.6" stroke="#777" stroke-width="0.6"/>
<line x1="743.75" y1="166" x2="743.75" y2="187.4" stroke="#777" stroke-width="0.6"/>
<line x1="747.3000000000001" y1="136.5" x2="747.3000000000001" y2="157.6" stroke="#777" stroke-width="0.6"/>
<line x1="747.3000000000001" y1="166" x2="747.3000000000001" y2="187.4" stroke="#777" stroke-width="0.6"/>
<line x1="750.85" y1="136.5" x2="750.85" y2="157.6" stroke="#777" stroke-width="0.6"/>
<line x1="750.85" y1="166" x2="750.85" y2="187.4" stroke="#777" stroke-width="0.6"/>
<line x1="754.4000000000001" y1="136.5" x2="754.4000000000001" y2="157.6" stroke="#777" stroke-width="0.6"/>
<line x1="754.4000000000001" y1="166" x2="754.4000000000001" y2="187.4" stroke="#777" stroke-width="0.6"/>
<line x1="757.95" y1="136.5" x2="757.95" y2="157.6" stroke="#777" stroke-width="0.6"/>
<line x1="757.95" y1="166" x2="757.95" y2="187.4" stroke="#777" stroke-width="0.6"/>
<line x1="761.5" y1="136.5" x2="761.5" y2="157.6" stroke="#777" stroke-width="0.6"/>
<line x1="761.5" y1="166" x2="761.5" y2="187.4" stroke="#777" stroke-width="0.6"/>
<line x1="765.0500000000001" y1="136.5" x2="765.0500000000001" y2="157.6" stroke="#777" stroke-width="0.6"/>
<line x1="765.0500000000001" y1="166" x2="765.0500000000001" y2="187.4" stroke="#777" stroke-width="0.6"/>
<line x1="768.6" y1="136.5" x2="768.6" y2="157.6" stroke="#777" stroke-width="0.6"/>
<line x1="768.6" y1="166" x2="768.6" y2="187.4" stroke="#777" stroke-width="0.6"/>
<line x1="772.1500000000001" y1="136.5" x2="772.1500000000001" y2="157.6" stroke="#777" stroke-width="0.6"/>
<line x1="772.1500000000001" y1="166" x2="772.1500000000001" y2="187.4" stroke="#777" stroke-width="0.6"/>
<line x1="775.7" y1="136.5" x2="775.7" y2="157.6" stroke="#777" stroke-width="0.6"/>
<line x1="775.7" y1="166" x2="775.7" y2="187.4" stroke="#777" stroke-width="0.6"/>
<rect x="740.2" y="157.6" width="38.8" height="8.4" fill="none" stroke="#555" stroke-width="0.8"/>
<rect x="779" y="146.7" width="10.8" height="30.3" fill="none" stroke="#777" stroke-width="0.6"/>
<line x1="740" y1="187.4" x2="779" y2="187.4" stroke="#6e6e6e" stroke-width="0.6"/>
<line x1="779" y1="136.5" x2="779" y2="187.4" stroke="#6e6e6e" stroke-width="0.6"/>
<line x1="742" y1="185" x2="760" y2="168" stroke="#888" stroke-width="0.5"/>
<line x1="745" y1="170" x2="760" y2="185" stroke="#888" stroke-width="0.5"/>
<text x="726" y="173" font-size="3.96" fill="#bbb" text-anchor="middle" textLength="17" lengthAdjust="spacingAndGlyphs" stroke="#bbb" stroke-width="0.12">PLATEBNÍ</text>
<text x="726" y="179" font-size="3.96" fill="#bbb" text-anchor="middle" textLength="17" lengthAdjust="spacingAndGlyphs" stroke="#bbb" stroke-width="0.12">AUTOMAT</text>
<rect x="716" y="182" width="10" height="6" fill="none" stroke="#bbb" stroke-width="0.5"/>
<line x1="712" y1="190.3" x2="803" y2="190.3" stroke="#6e6e6e" stroke-width="0.8"/>
<line x1="712" y1="191.8" x2="758" y2="191.8" stroke="#999" stroke-width="0.8"/>
<line x1="745" y1="191" x2="745" y2="251" stroke="#888" stroke-width="0.6" stroke-dasharray="2 1"/>
<line x1="757.8" y1="190.3" x2="757.8" y2="251" stroke="#6e6e6e" stroke-width="0.8"/>
<line x1="712" y1="206" x2="757.8" y2="206" stroke="#888" stroke-width="0.6"/>
<line x1="712" y1="221.8" x2="757.8" y2="221.8" stroke="#888" stroke-width="0.6"/>
<line x1="712" y1="235.9" x2="757.8" y2="235.9" stroke="#888" stroke-width="0.6"/>
<line x1="712" y1="251" x2="803" y2="251" stroke="#6e6e6e" stroke-width="0.8"/>
<line x1="712" y1="252.8" x2="803" y2="252.8" stroke="#999" stroke-width="0.8"/>
<g transform="translate(751,213) rotate(0)"><rect x="-3" y="-5" width="6" height="2.5" fill="none" stroke="#999" stroke-width="0.5"/><ellipse cx="0" cy="0.8" rx="2.6" ry="3.3" fill="none" stroke="#999" stroke-width="0.5"/></g>
<g transform="translate(751,228) rotate(0)"><rect x="-3" y="-5" width="6" height="2.5" fill="none" stroke="#999" stroke-width="0.5"/><ellipse cx="0" cy="0.8" rx="2.6" ry="3.3" fill="none" stroke="#999" stroke-width="0.5"/></g>
<g transform="translate(751,243) rotate(0)"><rect x="-3" y="-5" width="6" height="2.5" fill="none" stroke="#999" stroke-width="0.5"/><ellipse cx="0" cy="0.8" rx="2.6" ry="3.3" fill="none" stroke="#999" stroke-width="0.5"/></g>
<ellipse cx="721" cy="197" rx="4" ry="2.5" fill="none" stroke="#bbb" stroke-width="0.5"/>
<ellipse cx="721" cy="214" rx="4" ry="2.5" fill="none" stroke="#bbb" stroke-width="0.5"/>
<ellipse cx="721" cy="230" rx="4" ry="2.5" fill="none" stroke="#bbb" stroke-width="0.5"/>
<line x1="761.2" y1="190.3" x2="761.2" y2="251" stroke="#6e6e6e" stroke-width="0.8"/>
<line x1="775.3" y1="190.3" x2="775.3" y2="251" stroke="#6e6e6e" stroke-width="0.8"/>
<line x1="775.3" y1="208.5" x2="803" y2="208.5" stroke="#6e6e6e" stroke-width="0.8"/>
<line x1="775.3" y1="231.5" x2="803" y2="231.5" stroke="#6e6e6e" stroke-width="0.8"/>
<line x1="761.2" y1="208" x2="775.3" y2="208" stroke="#6e6e6e" stroke-width="0.8"/>
<line x1="761.2" y1="226" x2="775.3" y2="226" stroke="#6e6e6e" stroke-width="0.8"/>
<g transform="translate(768,202) rotate(0)"><rect x="-3" y="-5" width="6" height="2.5" fill="none" stroke="#999" stroke-width="0.5"/><ellipse cx="0" cy="0.8" rx="2.6" ry="3.3" fill="none" stroke="#999" stroke-width="0.5"/></g>
<g transform="translate(768,219) rotate(0)"><rect x="-3" y="-5" width="6" height="2.5" fill="none" stroke="#999" stroke-width="0.5"/><ellipse cx="0" cy="0.8" rx="2.6" ry="3.3" fill="none" stroke="#999" stroke-width="0.5"/></g>
<g transform="translate(768,240) rotate(0)"><rect x="-3" y="-5" width="6" height="2.5" fill="none" stroke="#999" stroke-width="0.5"/><ellipse cx="0" cy="0.8" rx="2.6" ry="3.3" fill="none" stroke="#999" stroke-width="0.5"/></g>
<ellipse cx="789" cy="200" rx="4" ry="2.5" fill="none" stroke="#aaa" stroke-width="0.5"/>
<ellipse cx="789" cy="222" rx="4" ry="2.5" fill="none" stroke="#aaa" stroke-width="0.5"/>
<ellipse cx="789" cy="243" rx="4" ry="2.5" fill="none" stroke="#aaa" stroke-width="0.5"/>
<path d="M775.3,194 L775.3,202.0 A8,8 0 0 0 783.3,194.0" fill="none" stroke="#6e6e6e" stroke-width="0.5"/>
<path d="M803,218 L794.0,218.0 A9,9 0 0 0 803.0,227.0" fill="none" stroke="#6e6e6e" stroke-width="0.5"/>
<path d="M803,241 L794.0,241.0 A9,9 0 0 0 803.0,250.0" fill="none" stroke="#6e6e6e" stroke-width="0.5"/>
<path d="M761.2,244 L761.2,236.0 A8,8 0 0 1 769.2,244.0" fill="none" stroke="#6e6e6e" stroke-width="0.5"/>
<path d="M761.2,197 L768.2,197.0 A7,7 0 0 1 761.2,204.0" fill="none" stroke="#6e6e6e" stroke-width="0.5"/>
<path d="M758,190.3 L758.0,198.3 A8,8 0 0 1 750.0,190.3" fill="none" stroke="#6e6e6e" stroke-width="0.5"/>
<line x1="825.5" y1="134.5" x2="825.5" y2="316" stroke="#6e6e6e" stroke-width="0.8"/>
<line x1="827.4" y1="138.2" x2="827.4" y2="316" stroke="#999" stroke-width="0.8"/>
<line x1="827.4" y1="138.2" x2="849" y2="138.2" stroke="#6e6e6e" stroke-width="0.7"/>
<line x1="827.4" y1="149" x2="849" y2="149" stroke="#6e6e6e" stroke-width="0.7"/>
<line x1="827.4" y1="189" x2="849" y2="189" stroke="#6e6e6e" stroke-width="0.7"/>
<line x1="827.4" y1="230.3" x2="849" y2="230.3" stroke="#6e6e6e" stroke-width="0.7"/>
<line x1="827.4" y1="270" x2="849" y2="270" stroke="#6e6e6e" stroke-width="0.7"/>
<line x1="803" y1="316" x2="849" y2="316" stroke="#6e6e6e" stroke-width="0.7"/>
<path d="M827.4,152 L827.4,143.0 A9,9 0 0 1 836.4,152.0" fill="none" stroke="#6e6e6e" stroke-width="0.5"/>
<path d="M827.4,196 L827.4,187.0 A9,9 0 0 1 836.4,196.0" fill="none" stroke="#6e6e6e" stroke-width="0.5"/>
<path d="M827.4,236 L827.4,227.0 A9,9 0 0 1 836.4,236.0" fill="none" stroke="#6e6e6e" stroke-width="0.5"/>
<path d="M827.4,290 L827.4,282.0 A8,8 0 0 1 835.4,290.0" fill="none" stroke="#6e6e6e" stroke-width="0.5"/>
<line x1="742.7432771950678" y1="20.996100594190537" x2="756.6014701827371" y2="26.736352079666887" stroke="#8e8e8e" stroke-width="0.55"/>
<line x1="739.4961005941906" y1="24.24327719506772" x2="745.236352079667" y2="38.10147018273702" stroke="#8e8e8e" stroke-width="0.55"/>
<line x1="734.9038994058095" y1="24.24327719506772" x2="729.1636479203331" y2="38.10147018273702" stroke="#8e8e8e" stroke-width="0.55"/>
<line x1="731.6567228049323" y1="20.996100594190537" x2="717.798529817263" y2="26.736352079666887" stroke="#8e8e8e" stroke-width="0.55"/>
<line x1="731.6567228049323" y1="16.40389940580946" x2="717.798529817263" y2="10.663647920333116" stroke="#8e8e8e" stroke-width="0.55"/>
<line x1="734.9038994058095" y1="13.15672280493228" x2="729.1636479203331" y2="-0.701470182737026" stroke="#8e8e8e" stroke-width="0.55"/>
<line x1="739.4961005941906" y1="13.15672280493228" x2="745.236352079667" y2="-0.7014701827370189" stroke="#8e8e8e" stroke-width="0.55"/>
<line x1="742.7432771950678" y1="16.40389940580946" x2="756.6014701827371" y2="10.66364792033312" stroke="#8e8e8e" stroke-width="0.55"/>
<rect x="733.2" y="14.7" width="8" height="8" fill="#fff" stroke="#444" stroke-width="0.9"/>
<rect x="734.8000000000001" y="16.3" width="4.8" height="4.8" fill="none" stroke="#888" stroke-width="0.5"/>
<line x1="829.3432771950677" y1="20.496100594190537" x2="843.201470182737" y2="26.236352079666887" stroke="#8e8e8e" stroke-width="0.55"/>
<line x1="826.0961005941905" y1="23.74327719506772" x2="831.8363520796669" y2="37.60147018273702" stroke="#8e8e8e" stroke-width="0.55"/>
<line x1="821.5038994058094" y1="23.74327719506772" x2="815.763647920333" y2="37.60147018273702" stroke="#8e8e8e" stroke-width="0.55"/>
<line x1="818.2567228049322" y1="20.496100594190537" x2="804.3985298172629" y2="26.236352079666887" stroke="#8e8e8e" stroke-width="0.55"/>
<line x1="818.2567228049322" y1="15.903899405809462" x2="804.3985298172629" y2="10.163647920333116" stroke="#8e8e8e" stroke-width="0.55"/>
<line x1="821.5038994058094" y1="12.65672280493228" x2="815.763647920333" y2="-1.201470182737026" stroke="#8e8e8e" stroke-width="0.55"/>
<line x1="826.0961005941905" y1="12.65672280493228" x2="831.8363520796669" y2="-1.2014701827370189" stroke="#8e8e8e" stroke-width="0.55"/>
<line x1="829.3432771950677" y1="15.903899405809462" x2="843.201470182737" y2="10.16364792033312" stroke="#8e8e8e" stroke-width="0.55"/>
<rect x="819.8" y="14.2" width="8" height="8" fill="#fff" stroke="#444" stroke-width="0.9"/>
<rect x="821.4" y="15.799999999999999" width="4.8" height="4.8" fill="none" stroke="#888" stroke-width="0.5"/>
<line x1="742.7432771950678" y1="106.49610059419054" x2="756.6014701827371" y2="112.23635207966689" stroke="#8e8e8e" stroke-width="0.55"/>
<line x1="739.4961005941906" y1="109.74327719506772" x2="745.236352079667" y2="123.60147018273702" stroke="#8e8e8e" stroke-width="0.55"/>
<line x1="734.9038994058095" y1="109.74327719506772" x2="729.1636479203331" y2="123.60147018273702" stroke="#8e8e8e" stroke-width="0.55"/>
<line x1="731.6567228049323" y1="106.49610059419054" x2="717.798529817263" y2="112.23635207966689" stroke="#8e8e8e" stroke-width="0.55"/>
<line x1="731.6567228049323" y1="101.90389940580947" x2="717.798529817263" y2="96.16364792033312" stroke="#8e8e8e" stroke-width="0.55"/>
<line x1="734.9038994058095" y1="98.65672280493229" x2="729.1636479203331" y2="84.79852981726297" stroke="#8e8e8e" stroke-width="0.55"/>
<line x1="739.4961005941906" y1="98.65672280493229" x2="745.236352079667" y2="84.79852981726299" stroke="#8e8e8e" stroke-width="0.55"/>
<line x1="742.7432771950678" y1="101.90389940580947" x2="756.6014701827371" y2="96.16364792033312" stroke="#8e8e8e" stroke-width="0.55"/>
<rect x="733.2" y="100.2" width="8" height="8" fill="#fff" stroke="#444" stroke-width="0.9"/>
<rect x="734.8000000000001" y="101.8" width="4.8" height="4.8" fill="none" stroke="#888" stroke-width="0.5"/>
<line x1="828.5432771950677" y1="106.09610059419053" x2="842.4014701827371" y2="111.83635207966688" stroke="#8e8e8e" stroke-width="0.55"/>
<line x1="825.2961005941905" y1="109.34327719506771" x2="831.0363520796669" y2="123.20147018273701" stroke="#8e8e8e" stroke-width="0.55"/>
<line x1="820.7038994058095" y1="109.34327719506771" x2="814.9636479203331" y2="123.20147018273701" stroke="#8e8e8e" stroke-width="0.55"/>
<line x1="817.4567228049323" y1="106.09610059419053" x2="803.5985298172629" y2="111.83635207966688" stroke="#8e8e8e" stroke-width="0.55"/>
<line x1="817.4567228049323" y1="101.50389940580946" x2="803.5985298172629" y2="95.76364792033311" stroke="#8e8e8e" stroke-width="0.55"/>
<line x1="820.7038994058095" y1="98.25672280493228" x2="814.9636479203331" y2="84.39852981726297" stroke="#8e8e8e" stroke-width="0.55"/>
<line x1="825.2961005941905" y1="98.25672280493228" x2="831.0363520796669" y2="84.39852981726298" stroke="#8e8e8e" stroke-width="0.55"/>
<line x1="828.5432771950677" y1="101.50389940580946" x2="842.4014701827371" y2="95.76364792033311" stroke="#8e8e8e" stroke-width="0.55"/>
<rect x="819.0" y="99.8" width="8" height="8" fill="#fff" stroke="#444" stroke-width="0.9"/>
<rect x="820.6" y="101.39999999999999" width="4.8" height="4.8" fill="none" stroke="#888" stroke-width="0.5"/>
<line x1="742.7432771950678" y1="192.59610059419055" x2="756.6014701827371" y2="198.3363520796669" stroke="#8e8e8e" stroke-width="0.55"/>
<line x1="739.4961005941906" y1="195.84327719506774" x2="745.236352079667" y2="209.70147018273704" stroke="#8e8e8e" stroke-width="0.55"/>
<line x1="734.9038994058095" y1="195.84327719506774" x2="729.1636479203331" y2="209.70147018273704" stroke="#8e8e8e" stroke-width="0.55"/>
<line x1="731.6567228049323" y1="192.59610059419055" x2="717.798529817263" y2="198.3363520796669" stroke="#8e8e8e" stroke-width="0.55"/>
<line x1="731.6567228049323" y1="188.00389940580948" x2="717.798529817263" y2="182.26364792033314" stroke="#8e8e8e" stroke-width="0.55"/>
<line x1="734.9038994058095" y1="184.75672280493228" x2="729.1636479203331" y2="170.89852981726298" stroke="#8e8e8e" stroke-width="0.55"/>
<line x1="739.4961005941906" y1="184.75672280493228" x2="745.236352079667" y2="170.89852981726298" stroke="#8e8e8e" stroke-width="0.55"/>
<line x1="742.7432771950678" y1="188.00389940580948" x2="756.6014701827371" y2="182.26364792033314" stroke="#8e8e8e" stroke-width="0.55"/>
<rect x="733.2" y="186.3" width="8" height="8" fill="#fff" stroke="#444" stroke-width="0.9"/>
<rect x="734.8000000000001" y="187.9" width="4.8" height="4.8" fill="none" stroke="#888" stroke-width="0.5"/>
<line x1="828.1432771950678" y1="192.59610059419055" x2="842.0014701827371" y2="198.3363520796669" stroke="#8e8e8e" stroke-width="0.55"/>
<line x1="824.8961005941906" y1="195.84327719506774" x2="830.636352079667" y2="209.70147018273704" stroke="#8e8e8e" stroke-width="0.55"/>
<line x1="820.3038994058095" y1="195.84327719506774" x2="814.5636479203331" y2="209.70147018273704" stroke="#8e8e8e" stroke-width="0.55"/>
<line x1="817.0567228049323" y1="192.59610059419055" x2="803.198529817263" y2="198.3363520796669" stroke="#8e8e8e" stroke-width="0.55"/>
<line x1="817.0567228049323" y1="188.00389940580948" x2="803.198529817263" y2="182.26364792033314" stroke="#8e8e8e" stroke-width="0.55"/>
<line x1="820.3038994058095" y1="184.75672280493228" x2="814.5636479203331" y2="170.89852981726298" stroke="#8e8e8e" stroke-width="0.55"/>
<line x1="824.8961005941906" y1="184.75672280493228" x2="830.636352079667" y2="170.89852981726298" stroke="#8e8e8e" stroke-width="0.55"/>
<line x1="828.1432771950678" y1="188.00389940580948" x2="842.0014701827371" y2="182.26364792033314" stroke="#8e8e8e" stroke-width="0.55"/>
<rect x="818.6" y="186.3" width="8" height="8" fill="#fff" stroke="#444" stroke-width="0.9"/>
<rect x="820.2" y="187.9" width="4.8" height="4.8" fill="none" stroke="#888" stroke-width="0.5"/>
<line x1="742.5432771950677" y1="278.29610059419053" x2="756.4014701827371" y2="284.03635207966687" stroke="#8e8e8e" stroke-width="0.55"/>
<line x1="739.2961005941905" y1="281.54327719506773" x2="745.0363520796669" y2="295.401470182737" stroke="#8e8e8e" stroke-width="0.55"/>
<line x1="734.7038994058095" y1="281.54327719506773" x2="728.9636479203331" y2="295.401470182737" stroke="#8e8e8e" stroke-width="0.55"/>
<line x1="731.4567228049323" y1="278.29610059419053" x2="717.5985298172629" y2="284.03635207966687" stroke="#8e8e8e" stroke-width="0.55"/>
<line x1="731.4567228049323" y1="273.70389940580947" x2="717.5985298172629" y2="267.96364792033313" stroke="#8e8e8e" stroke-width="0.55"/>
<line x1="734.7038994058095" y1="270.45672280493227" x2="728.9636479203331" y2="256.598529817263" stroke="#8e8e8e" stroke-width="0.55"/>
<line x1="739.2961005941905" y1="270.45672280493227" x2="745.0363520796669" y2="256.598529817263" stroke="#8e8e8e" stroke-width="0.55"/>
<line x1="742.5432771950677" y1="273.70389940580947" x2="756.4014701827371" y2="267.96364792033313" stroke="#8e8e8e" stroke-width="0.55"/>
<rect x="733.0" y="272.0" width="8" height="8" fill="#fff" stroke="#444" stroke-width="0.9"/>
<rect x="734.6" y="273.6" width="4.8" height="4.8" fill="none" stroke="#888" stroke-width="0.5"/>
<line x1="827.5432771950677" y1="276.29610059419053" x2="841.4014701827371" y2="282.03635207966687" stroke="#8e8e8e" stroke-width="0.55"/>
<line x1="824.2961005941905" y1="279.54327719506773" x2="830.0363520796669" y2="293.401470182737" stroke="#8e8e8e" stroke-width="0.55"/>
<line x1="819.7038994058095" y1="279.54327719506773" x2="813.9636479203331" y2="293.401470182737" stroke="#8e8e8e" stroke-width="0.55"/>
<line x1="816.4567228049323" y1="276.29610059419053" x2="802.5985298172629" y2="282.03635207966687" stroke="#8e8e8e" stroke-width="0.55"/>
<line x1="816.4567228049323" y1="271.70389940580947" x2="802.5985298172629" y2="265.96364792033313" stroke="#8e8e8e" stroke-width="0.55"/>
<line x1="819.7038994058095" y1="268.45672280493227" x2="813.9636479203331" y2="254.59852981726297" stroke="#8e8e8e" stroke-width="0.55"/>
<line x1="824.2961005941905" y1="268.45672280493227" x2="830.0363520796669" y2="254.59852981726297" stroke="#8e8e8e" stroke-width="0.55"/>
<line x1="827.5432771950677" y1="271.70389940580947" x2="841.4014701827371" y2="265.96364792033313" stroke="#8e8e8e" stroke-width="0.55"/>
<rect x="818.0" y="270.0" width="8" height="8" fill="#fff" stroke="#444" stroke-width="0.9"/>
<rect x="819.6" y="271.6" width="4.8" height="4.8" fill="none" stroke="#888" stroke-width="0.5"/>
<rect x="818" y="96" width="13" height="15" fill="none" stroke="#aaa" stroke-width="0.5" stroke-dasharray="2 1"/>
<rect x="816" y="181" width="14" height="17" fill="none" stroke="#aaa" stroke-width="0.5" stroke-dasharray="2 1"/>
<rect x="816" y="266" width="14" height="17" fill="none" stroke="#aaa" stroke-width="0.5" stroke-dasharray="2 1"/>
<line x1="717" y1="275.5" x2="803" y2="275.5" stroke="#6e6e6e" stroke-width="0.8"/>
<line x1="719.5" y1="277.5" x2="801" y2="277.5" stroke="#999" stroke-width="0.8"/>
<line x1="717" y1="275.5" x2="717" y2="360" stroke="#6e6e6e" stroke-width="0.8"/>
<line x1="719.5" y1="277.5" x2="719.5" y2="358" stroke="#999" stroke-width="0.8"/>
<line x1="801" y1="275.5" x2="801" y2="360" stroke="#6e6e6e" stroke-width="0.8"/>
<line x1="803" y1="275.5" x2="803" y2="360" stroke="#999" stroke-width="0.8"/>
<path d="M773,275.5 L773.0,284.5 A9,9 0 0 0 782.0,275.5" fill="none" stroke="#6e6e6e" stroke-width="0.5"/>
<path d="M803,260 L793.0,260.0 A10,10 0 0 0 803.0,270.0" fill="none" stroke="#6e6e6e" stroke-width="0.5"/>
<line x1="717" y1="360" x2="849" y2="360" stroke="#6e6e6e" stroke-width="0.8"/>
<line x1="719.5" y1="358" x2="801" y2="358" stroke="#999" stroke-width="0.8"/>
<line x1="712.2" y1="367.5" x2="849" y2="367.5" stroke="#6e6e6e" stroke-width="0.8"/>
<line x1="710" y1="369" x2="712.2" y2="369" stroke="#6e6e6e" stroke-width="0.8"/>
<rect x="734" y="368" width="115" height="13.5" fill="none" stroke="#888" stroke-width="0.6"/>
<line x1="738" y1="368" x2="738" y2="379" stroke="#999" stroke-width="0.5"/>
<line x1="738" y1="379" x2="849" y2="379" stroke="#999" stroke-width="0.5"/>
<rect x="735" y="360" width="7" height="6" fill="#fff" stroke="#888" stroke-width="0.5"/>
<rect x="776" y="360" width="7" height="6" fill="#fff" stroke="#888" stroke-width="0.5"/>
<rect x="795" y="360" width="7" height="6" fill="#fff" stroke="#888" stroke-width="0.5"/>
<rect x="815" y="360" width="7" height="6" fill="#fff" stroke="#888" stroke-width="0.5"/>
<rect x="834" y="360" width="7" height="6" fill="#fff" stroke="#888" stroke-width="0.5"/>
<line x1="746" y1="364.5" x2="773" y2="364.5" stroke="#999" stroke-width="1.2"/>
<line x1="781" y1="364.5" x2="791" y2="364.5" stroke="#999" stroke-width="1.2"/>
<line x1="800" y1="364.5" x2="812" y2="364.5" stroke="#999" stroke-width="1.2"/>
<line x1="820" y1="364.5" x2="845" y2="364.5" stroke="#999" stroke-width="1.2"/>
<path d="M809,316 L809.0,326.0 A10,10 0 0 0 819.0,316.0" fill="none" stroke="#6e6e6e" stroke-width="0.5"/>
<path d="M803,320 L803.0,311.0 A9,9 0 0 0 794.0,320.0" fill="none" stroke="#6e6e6e" stroke-width="0.5"/>
<line x1="712.2" y1="252.8" x2="712.2" y2="275.5" stroke="#999" stroke-width="0.8"/>
<line x1="525.9" y1="313.3" x2="525.9" y2="336.3" stroke="#6e6e6e" stroke-width="0.8"/>
<line x1="527.4" y1="318.2" x2="527.4" y2="336.3" stroke="#999" stroke-width="0.8"/>
<line x1="527.4" y1="318.2" x2="710" y2="318.2" stroke="#888" stroke-width="0.8"/>
<line x1="525.9" y1="313.3" x2="710" y2="313.3" stroke="#999" stroke-width="0.8"/>
<path d="M574.5,311 L574.5,327.0 A16,16 0 0 1 558.5,311.0" fill="none" stroke="#777" stroke-width="0.5"/>
<path d="M692.5,311 L692.5,327.0 A16,16 0 0 1 676.5,311.0" fill="none" stroke="#777" stroke-width="0.5"/>
<polygon points="443.7,330.7 466.1,314.4 478.3,336.3 466.1,344.7" fill="none" stroke="#6e6e6e" stroke-width="0.8"/>
<polygon points="446.5,330.9 466.1,316.8 476.2,335.8 466.4,342.4" fill="none" stroke="#999" stroke-width="0.5"/>
<line x1="466.1" y1="314.4" x2="525.9" y2="314.4" stroke="#888" stroke-width="0.6"/>
<line x1="478.3" y1="336.3" x2="553" y2="336.3" stroke="#6e6e6e" stroke-width="0.8"/>
<line x1="478" y1="338.5" x2="550.8" y2="338.5" stroke="#999" stroke-width="0.8"/>
<rect x="419.5" y="329.5" width="25" height="182.5" fill="none" stroke="#777" stroke-width="0.8"/>
<rect x="424" y="334" width="16" height="170.5" fill="none" stroke="#777" stroke-width="0.7"/>
<rect x="421" y="353" width="3" height="3" fill="none" stroke="#888" stroke-width="0.5"/>
<rect x="440" y="353" width="3" height="3" fill="none" stroke="#888" stroke-width="0.5"/>
<rect x="421" y="377" width="3" height="3" fill="none" stroke="#888" stroke-width="0.5"/>
<rect x="440" y="377" width="3" height="3" fill="none" stroke="#888" stroke-width="0.5"/>
<rect x="421" y="401" width="3" height="3" fill="none" stroke="#888" stroke-width="0.5"/>
<rect x="440" y="401" width="3" height="3" fill="none" stroke="#888" stroke-width="0.5"/>
<rect x="421" y="425" width="3" height="3" fill="none" stroke="#888" stroke-width="0.5"/>
<rect x="440" y="425" width="3" height="3" fill="none" stroke="#888" stroke-width="0.5"/>
<rect x="421" y="449" width="3" height="3" fill="none" stroke="#888" stroke-width="0.5"/>
<rect x="440" y="449" width="3" height="3" fill="none" stroke="#888" stroke-width="0.5"/>
<rect x="421" y="473" width="3" height="3" fill="none" stroke="#888" stroke-width="0.5"/>
<rect x="440" y="473" width="3" height="3" fill="none" stroke="#888" stroke-width="0.5"/>
<rect x="421" y="497" width="3" height="3" fill="none" stroke="#888" stroke-width="0.5"/>
<rect x="440" y="497" width="3" height="3" fill="none" stroke="#888" stroke-width="0.5"/>
<line x1="466" y1="344" x2="466" y2="481.5" stroke="#6e6e6e" stroke-width="0.8"/>
<line x1="468.5" y1="344" x2="468.5" y2="481.5" stroke="#999" stroke-width="0.8"/>
<line x1="552.5" y1="337" x2="552.5" y2="481.5" stroke="#6e6e6e" stroke-width="0.8"/>
<line x1="550.8" y1="339" x2="550.8" y2="474.5" stroke="#999" stroke-width="0.8"/>
<line x1="466" y1="481.5" x2="552.5" y2="481.5" stroke="#6e6e6e" stroke-width="0.8"/>
<line x1="468.5" y1="474.5" x2="550.8" y2="474.5" stroke="#999" stroke-width="0.8"/>
<rect x="475.5" y="364.5" width="75.5" height="110" fill="none" stroke="#888" stroke-width="0.5"/>
<rect x="480" y="370" width="24.5" height="9.5" fill="none" stroke="#555" stroke-width="0.7"/>
<line x1="481" y1="377.5" x2="503.5" y2="377.5" stroke="#888" stroke-width="0.5"/>
<rect x="513" y="370" width="24.5" height="9.5" fill="none" stroke="#555" stroke-width="0.7"/>
<line x1="514" y1="377.5" x2="536.5" y2="377.5" stroke="#888" stroke-width="0.5"/>
<rect x="480" y="406" width="24.5" height="9.5" fill="none" stroke="#555" stroke-width="0.7"/>
<line x1="481" y1="413.5" x2="503.5" y2="413.5" stroke="#888" stroke-width="0.5"/>
<rect x="513" y="406" width="24.5" height="9.5" fill="none" stroke="#555" stroke-width="0.7"/>
<line x1="514" y1="413.5" x2="536.5" y2="413.5" stroke="#888" stroke-width="0.5"/>
<rect x="480" y="422.5" width="24.5" height="9.5" fill="none" stroke="#555" stroke-width="0.7"/>
<line x1="481" y1="430.0" x2="503.5" y2="430.0" stroke="#888" stroke-width="0.5"/>
<rect x="513" y="422.5" width="24.5" height="9.5" fill="none" stroke="#555" stroke-width="0.7"/>
<line x1="514" y1="430.0" x2="536.5" y2="430.0" stroke="#888" stroke-width="0.5"/>
<rect x="480" y="460" width="24.5" height="9.5" fill="none" stroke="#555" stroke-width="0.7"/>
<line x1="481" y1="467.5" x2="503.5" y2="467.5" stroke="#888" stroke-width="0.5"/>
<rect x="513" y="460" width="24.5" height="9.5" fill="none" stroke="#555" stroke-width="0.7"/>
<line x1="514" y1="467.5" x2="536.5" y2="467.5" stroke="#888" stroke-width="0.5"/>
<circle cx="545.2" cy="374" r="2.8" fill="none" stroke="#777" stroke-width="0.6"/>
<circle cx="545.2" cy="419.5" r="2.8" fill="none" stroke="#777" stroke-width="0.6"/>
<circle cx="545.2" cy="464.8" r="2.8" fill="none" stroke="#777" stroke-width="0.6"/>
<text x="511" y="391" font-size="3.96" fill="#1a1a1a" text-anchor="middle" textLength="38" lengthAdjust="spacingAndGlyphs" stroke="#1a1a1a" stroke-width="0.12">ODPOČINKOVÁ TERASA</text>
<text x="511" y="396.8" font-size="3.96" fill="#1a1a1a" text-anchor="middle" textLength="50" lengthAdjust="spacingAndGlyphs" stroke="#1a1a1a" stroke-width="0.12">(V MÍSTĚ RUŠENÉHO STÁNKU)</text>
<text x="511" y="402.5" font-size="3.96" fill="#1a1a1a" text-anchor="middle" textLength="12" lengthAdjust="spacingAndGlyphs" stroke="#1a1a1a" stroke-width="0.12">6,75 m²</text>
<line x1="445" y1="480" x2="552.5" y2="480" stroke="#6e6e6e" stroke-width="0.6"/>
<line x1="445" y1="506" x2="552.5" y2="506" stroke="#6e6e6e" stroke-width="0.8"/>
<line x1="444.5" y1="504" x2="552" y2="504" stroke="#999" stroke-width="0.8"/>
<line x1="468" y1="481.5" x2="468" y2="506" stroke="#6e6e6e" stroke-width="0.6"/>
<line x1="551" y1="481.5" x2="551" y2="506" stroke="#6e6e6e" stroke-width="0.6"/>
<text x="472.5" y="489.2" font-size="3.96" fill="#1a1a1a" textLength="33" lengthAdjust="spacingAndGlyphs" stroke="#1a1a1a" stroke-width="0.12">RAMPA PRO ZTP</text>
<line x1="444.5" y1="329.5" x2="444.5" y2="512" stroke="#777" stroke-width="0.8"/>
<rect x="419.5" y="504" width="25" height="8" fill="none" stroke="#888" stroke-width="0.6"/>
<line x1="552.6" y1="341.3" x2="709" y2="341.3" stroke="#666" stroke-width="0.7"/>
<line x1="552.6" y1="345.2" x2="709" y2="345.2" stroke="#666" stroke-width="0.7"/>
<line x1="552.6" y1="349.6" x2="709" y2="349.6" stroke="#666" stroke-width="0.7"/>
<line x1="552.6" y1="353.7" x2="709" y2="353.7" stroke="#666" stroke-width="0.7"/>
<line x1="552.6" y1="358" x2="709" y2="358" stroke="#666" stroke-width="0.7"/>
<line x1="552.6" y1="362.4" x2="709" y2="362.4" stroke="#666" stroke-width="0.7"/>
<line x1="552.6" y1="366.5" x2="709" y2="366.5" stroke="#666" stroke-width="0.7"/>
<line x1="552.6" y1="339.5" x2="552.6" y2="367" stroke="#333" stroke-width="1.2"/>
<line x1="603.5" y1="339.5" x2="603.5" y2="367" stroke="#333" stroke-width="1.2"/>
<line x1="658.7" y1="339.5" x2="658.7" y2="367" stroke="#333" stroke-width="1.2"/>
<line x1="708.5" y1="339.5" x2="708.5" y2="367" stroke="#333" stroke-width="1.2"/>
<line x1="709" y1="367.5" x2="712" y2="367.5" stroke="#6e6e6e" stroke-width="0.8"/>
<line x1="712" y1="367.5" x2="712" y2="378" stroke="#999" stroke-width="0.8"/>
<rect x="121" y="484.5" width="81.5" height="47" fill="none" stroke="#777" stroke-width="0.8"/>
<rect x="123" y="486.5" width="77.5" height="43" fill="none" stroke="#999" stroke-width="0.6"/>
<rect x="141" y="491" width="39" height="38.5" fill="none" stroke="#777" stroke-width="0.7"/>
<rect x="140" y="509" width="40" height="5" fill="#fff" stroke="#777" stroke-width="0.7"/>
<line x1="144.55" y1="491" x2="144.55" y2="509" stroke="#777" stroke-width="0.6"/>
<line x1="144.55" y1="514" x2="144.55" y2="529.5" stroke="#777" stroke-width="0.6"/>
<line x1="148.1" y1="491" x2="148.1" y2="509" stroke="#777" stroke-width="0.6"/>
<line x1="148.1" y1="514" x2="148.1" y2="529.5" stroke="#777" stroke-width="0.6"/>
<line x1="151.65" y1="491" x2="151.65" y2="509" stroke="#777" stroke-width="0.6"/>
<line x1="151.65" y1="514" x2="151.65" y2="529.5" stroke="#777" stroke-width="0.6"/>
<line x1="155.2" y1="491" x2="155.2" y2="509" stroke="#777" stroke-width="0.6"/>
<line x1="155.2" y1="514" x2="155.2" y2="529.5" stroke="#777" stroke-width="0.6"/>
<line x1="158.75" y1="491" x2="158.75" y2="509" stroke="#777" stroke-width="0.6"/>
<line x1="158.75" y1="514" x2="158.75" y2="529.5" stroke="#777" stroke-width="0.6"/>
<line x1="162.3" y1="491" x2="162.3" y2="509" stroke="#777" stroke-width="0.6"/>
<line x1="162.3" y1="514" x2="162.3" y2="529.5" stroke="#777" stroke-width="0.6"/>
<line x1="165.85" y1="491" x2="165.85" y2="509" stroke="#777" stroke-width="0.6"/>
<line x1="165.85" y1="514" x2="165.85" y2="529.5" stroke="#777" stroke-width="0.6"/>
<line x1="169.4" y1="491" x2="169.4" y2="509" stroke="#777" stroke-width="0.6"/>
<line x1="169.4" y1="514" x2="169.4" y2="529.5" stroke="#777" stroke-width="0.6"/>
<line x1="172.95" y1="491" x2="172.95" y2="509" stroke="#777" stroke-width="0.6"/>
<line x1="172.95" y1="514" x2="172.95" y2="529.5" stroke="#777" stroke-width="0.6"/>
<line x1="176.5" y1="491" x2="176.5" y2="509" stroke="#777" stroke-width="0.6"/>
<line x1="176.5" y1="514" x2="176.5" y2="529.5" stroke="#777" stroke-width="0.6"/>
<path d="M125,484.5 L125.0,497.5 A13,13 0 0 0 138.0,484.5" fill="none" stroke="#6e6e6e" stroke-width="0.6"/>
<line x1="123" y1="484" x2="140" y2="484" stroke="#999" stroke-width="0.6" stroke-dasharray="2 1"/>
<line x1="36" y1="479.5" x2="72" y2="479.5" stroke="#555" stroke-width="1.4"/>
<line x1="88" y1="478" x2="88" y2="481" stroke="#6e6e6e" stroke-width="0.6"/>
<line x1="90" y1="478" x2="90" y2="481" stroke="#6e6e6e" stroke-width="0.6"/>
<rect x="430" y="59.8" width="80" height="8.5" fill="#fff"/>
<line x1="430" y1="64.3" x2="510" y2="64.3" stroke="#999" stroke-width="0.6"/>
<line x1="430" y1="68.3" x2="510" y2="68.3" stroke="#888" stroke-width="0.7"/>
<line x1="455.5" y1="59" x2="455.5" y2="65" stroke="#6e6e6e" stroke-width="0.7"/>
<rect x="601" y="59.8" width="74" height="7" fill="#fff"/>
<line x1="601" y1="62.5" x2="675" y2="62.5" stroke="#ccc" stroke-width="1.6"/>
<line x1="601" y1="66.5" x2="675" y2="66.5" stroke="#999" stroke-width="0.6"/>
<rect x="515.5" y="59.8" width="80.5" height="2.5" fill="#fff"/>
<path d="M282.5,179.5 L282.5,163.5 A16,16 0 0 0 266.5,179.5" fill="none" stroke="#777" stroke-width="0.6"/>
<text x="281" y="279.5" font-size="3.96" fill="#1a1a1a" text-anchor="middle" textLength="38" lengthAdjust="spacingAndGlyphs" stroke="#1a1a1a" stroke-width="0.12">ŠATNY NÁVŠTĚVNÍKŮ</text>
<text x="281" y="285.3" font-size="3.96" fill="#1a1a1a" text-anchor="middle" textLength="44" lengthAdjust="spacingAndGlyphs" stroke="#1a1a1a" stroke-width="0.12">(205 ŠATNÍCH SKŘÍNĚK)</text>
<text x="281" y="291" font-size="3.96" fill="#1a1a1a" text-anchor="middle" textLength="17" lengthAdjust="spacingAndGlyphs" stroke="#1a1a1a" stroke-width="0.12">226,27 m²</text>
<text x="241" y="305" font-size="3.96" fill="#1a1a1a" text-anchor="middle" textLength="8" lengthAdjust="spacingAndGlyphs" stroke="#1a1a1a" stroke-width="0.12">ZTP</text>
<text x="296.5" y="305" font-size="3.96" fill="#1a1a1a" text-anchor="middle" textLength="8" lengthAdjust="spacingAndGlyphs" stroke="#1a1a1a" stroke-width="0.12">ZTP</text>
<text x="262.5" y="326.5" font-size="3.96" fill="#1a1a1a" text-anchor="middle" textLength="27" lengthAdjust="spacingAndGlyphs" stroke="#1a1a1a" stroke-width="0.12">PŘEVL. KABINY</text>
<text x="287.5" y="327.5" font-size="3.74" fill="#1a1a1a" text-anchor="middle" textLength="16" lengthAdjust="spacingAndGlyphs" transform="rotate(-90 287.5 327.5)" stroke="#1a1a1a" stroke-width="0.12">min. 1500</text>
<text x="306" y="238.5" font-size="3.52" fill="#1a1a1a" text-anchor="middle" textLength="28" lengthAdjust="spacingAndGlyphs" stroke="#1a1a1a" stroke-width="0.12">BLNOVÁCÍ SKŘÍŇ</text>
<text x="374.6" y="293" font-size="3.96" fill="#1a1a1a" text-anchor="middle" textLength="24" lengthAdjust="spacingAndGlyphs" stroke="#1a1a1a" stroke-width="0.12">ČISTÁ ZÓNA</text>
<text x="352" y="290" font-size="3.74" fill="#1a1a1a" text-anchor="middle" textLength="17" lengthAdjust="spacingAndGlyphs" transform="rotate(-90 352 290)" stroke="#1a1a1a" stroke-width="0.12">min. 1100</text>
<line x1="355" y1="281" x2="355" y2="298" stroke="#555" stroke-width="0.5"/>
<text x="402.2" y="245.3" font-size="3.74" fill="#1a1a1a" text-anchor="middle" textLength="9" lengthAdjust="spacingAndGlyphs" transform="rotate(-90 402.2 245.3)" stroke="#1a1a1a" stroke-width="0.12">LAVICE</text>
<text x="421.5" y="276" font-size="3.96" fill="#1a1a1a" text-anchor="middle" textLength="24" lengthAdjust="spacingAndGlyphs" stroke="#1a1a1a" stroke-width="0.12">PŘEZOUVÁNÍ</text>
<text x="421.5" y="282.8" font-size="3.96" fill="#1a1a1a" text-anchor="middle" textLength="15" lengthAdjust="spacingAndGlyphs" stroke="#1a1a1a" stroke-width="0.12">27,77 m²</text>
<text x="420.7" y="253.2" font-size="3.96" fill="#c5cfc0" text-anchor="middle" textLength="19" lengthAdjust="spacingAndGlyphs" stroke="#c5cfc0" stroke-width="0.12">TURNIKET</text>
<text x="444.2" y="260.6" font-size="3.96" fill="#c5cfc0" text-anchor="middle" textLength="18" lengthAdjust="spacingAndGlyphs" stroke="#c5cfc0" stroke-width="0.12">PLATEBNÍ</text>
<text x="444.2" y="266.4" font-size="3.96" fill="#c5cfc0" text-anchor="middle" textLength="18" lengthAdjust="spacingAndGlyphs" stroke="#c5cfc0" stroke-width="0.12">AUTOMAT</text>
<text x="458" y="284" font-size="3.74" fill="#1a1a1a" text-anchor="middle" textLength="30" lengthAdjust="spacingAndGlyphs" transform="rotate(-90 458 284)" stroke="#1a1a1a" stroke-width="0.12">ZRCADLA + FÉNY</text>
<text x="421" y="236" font-size="3.52" fill="#1a1a1a" text-anchor="middle" textLength="14" lengthAdjust="spacingAndGlyphs" transform="rotate(-90 421 236)" stroke="#1a1a1a" stroke-width="0.12">min. 1100</text>
<text x="78.8" y="212" font-size="3.96" fill="#1a1a1a" text-anchor="middle" textLength="18" lengthAdjust="spacingAndGlyphs" stroke="#1a1a1a" stroke-width="0.12">9 SPRCH</text>
<text x="78.8" y="218.5" font-size="3.96" fill="#1a1a1a" text-anchor="middle" textLength="8" lengthAdjust="spacingAndGlyphs" stroke="#1a1a1a" stroke-width="0.12">ŽEN</text>
<text x="78.8" y="277" font-size="3.96" fill="#1a1a1a" text-anchor="middle" textLength="21" lengthAdjust="spacingAndGlyphs" stroke="#1a1a1a" stroke-width="0.12">PŘEDSÍŇKA</text>
<text x="78.8" y="283" font-size="3.96" fill="#1a1a1a" text-anchor="middle" textLength="19" lengthAdjust="spacingAndGlyphs" stroke="#1a1a1a" stroke-width="0.12">S VĚŠÁKY</text>
<text x="78.8" y="359" font-size="3.96" fill="#1a1a1a" text-anchor="middle" textLength="21" lengthAdjust="spacingAndGlyphs" stroke="#1a1a1a" stroke-width="0.12">PŘEDSÍŇKA</text>
<text x="78.8" y="365" font-size="3.96" fill="#1a1a1a" text-anchor="middle" textLength="19" lengthAdjust="spacingAndGlyphs" stroke="#1a1a1a" stroke-width="0.12">S VĚŠÁKY</text>
<text x="79" y="421" font-size="3.96" fill="#1a1a1a" text-anchor="middle" textLength="18" lengthAdjust="spacingAndGlyphs" stroke="#1a1a1a" stroke-width="0.12">9 SPRCH</text>
<text x="79" y="427.5" font-size="3.96" fill="#1a1a1a" text-anchor="middle" textLength="10" lengthAdjust="spacingAndGlyphs" stroke="#1a1a1a" stroke-width="0.12">MUŽI</text>
<text x="86" y="189.5" font-size="3.52" fill="#1a1a1a" text-anchor="middle" textLength="7" lengthAdjust="spacingAndGlyphs" stroke="#1a1a1a" stroke-width="0.12">ZTP</text>
<text x="86" y="441" font-size="3.52" fill="#1a1a1a" text-anchor="middle" textLength="7" lengthAdjust="spacingAndGlyphs" stroke="#1a1a1a" stroke-width="0.12">ZTP</text>
<rect x="611.4" y="137" width="28.6" height="21.5" fill="none" stroke="#777" stroke-width="0.6" stroke-dasharray="2 1.2"/>
<line x1="611.4" y1="137" x2="640.0" y2="158.5" stroke="#777" stroke-width="0.5"/>
<line x1="611.4" y1="158.5" x2="640.0" y2="137" stroke="#777" stroke-width="0.5"/>
<line x1="204.7" y1="148.9" x2="285" y2="148.9" stroke="#6e6e6e" stroke-width="0.8"/>
<line x1="204.7" y1="150.4" x2="285" y2="150.4" stroke="#999" stroke-width="0.8"/>
<line x1="709.6" y1="0" x2="709.6" y2="59" stroke="#6e6e6e" stroke-width="0.7"/>
<line x1="711.8" y1="0" x2="711.8" y2="59" stroke="#888" stroke-width="0.6"/>
<line x1="676" y1="59" x2="714" y2="59" stroke="#fff" stroke-width="2.8"/>
<line x1="676" y1="59" x2="714" y2="59" stroke="#000" stroke-width="1.7" stroke-dasharray="1.6 2.7"/>
<text x="422.9" y="109" font-size="15.41" fill="#fc3d12" textLength="86.4" lengthAdjust="spacingAndGlyphs" stroke="#fc3d12" stroke-width="0.3">OBČERSTVENÍ</text>
<text x="360.9" y="116.7" font-size="9.88" fill="#fc3d12" textLength="26.4" lengthAdjust="spacingAndGlyphs" stroke="#fc3d12" stroke-width="0.3">VÝDEJ</text>
<text x="354.79999999999995" y="128.6" font-size="9.45" fill="#fc3d12" textLength="40.9" lengthAdjust="spacingAndGlyphs" stroke="#fc3d12" stroke-width="0.3">U BAZÉNU</text>
<text x="550.9" y="116.8" font-size="9.45" fill="#fc3d12" textLength="26.4" lengthAdjust="spacingAndGlyphs" stroke="#fc3d12" stroke-width="0.3">VÝDEJ</text>
<text x="535.1999999999999" y="128.7" font-size="9.74" fill="#fc3d12" textLength="60.5" lengthAdjust="spacingAndGlyphs" stroke="#fc3d12" stroke-width="0.3">U VSTUP. HALY</text>
<text x="69.5" y="270.9" font-size="15.70" fill="#1b7ff6" textLength="126.7" lengthAdjust="spacingAndGlyphs" stroke="#1b7ff6" stroke-width="0.3">WC + SPRCHY - ŽENY</text>
<text x="71.2" y="372.5" font-size="14.83" fill="#1b7ff6" textLength="123.4" lengthAdjust="spacingAndGlyphs" stroke="#1b7ff6" stroke-width="0.3">WC + SPRCHY - MUŽI</text>
<text x="217.3" y="247" font-size="15.41" fill="#8ed65c" textLength="110.9" lengthAdjust="spacingAndGlyphs" stroke="#8ed65c" stroke-width="0.3">ŠATNA ZÁKAZNÍKU</text>
<text x="598.8" y="202.7" font-size="15.70" fill="#fbbd0d" textLength="58.2" lengthAdjust="spacingAndGlyphs" stroke="#fbbd0d" stroke-width="0.3">RECEPCE</text>
<text x="584.6" y="252.4" font-size="15.26" fill="#fbbd0d" textLength="87.0" lengthAdjust="spacingAndGlyphs" stroke="#fbbd0d" stroke-width="0.3">VSTUPNÍ HALA</text>
<text x="486.4" y="275.3" font-size="15.41" fill="#9a1cff" textLength="66.0" lengthAdjust="spacingAndGlyphs" stroke="#9a1cff" stroke-width="0.3">OBCHODNÍ</text>
<text x="487.5" y="293.3" font-size="15.55" fill="#9a1cff" textLength="63.8" lengthAdjust="spacingAndGlyphs" stroke="#9a1cff" stroke-width="0.3">JEDNOTKA</text>
<text x="726.0" y="216.6" font-size="15.55" fill="#1b7ff6" textLength="20.5" lengthAdjust="spacingAndGlyphs" stroke="#1b7ff6" stroke-width="0.3">WC</text>
<text x="722.4" y="234.3" font-size="15.12" fill="#1b7ff6" textLength="26.4" lengthAdjust="spacingAndGlyphs" stroke="#1b7ff6" stroke-width="0.3">ZÁK.</text>
<text x="577.6999999999999" y="405.1" font-size="15.26" fill="#fbbd0d" textLength="61.9" lengthAdjust="spacingAndGlyphs" stroke="#fbbd0d" stroke-width="0.3">VENKOVNÍ</text>
<text x="563.6999999999999" y="423.2" font-size="14.83" fill="#fbbd0d" textLength="89.9" lengthAdjust="spacingAndGlyphs" stroke="#fbbd0d" stroke-width="0.3">ODPOČINKOVÁ</text>
<text x="584.8" y="441" font-size="14.97" fill="#fbbd0d" textLength="48.2" lengthAdjust="spacingAndGlyphs" stroke="#fbbd0d" stroke-width="0.3">TERASA</text>
</svg></body></html>
